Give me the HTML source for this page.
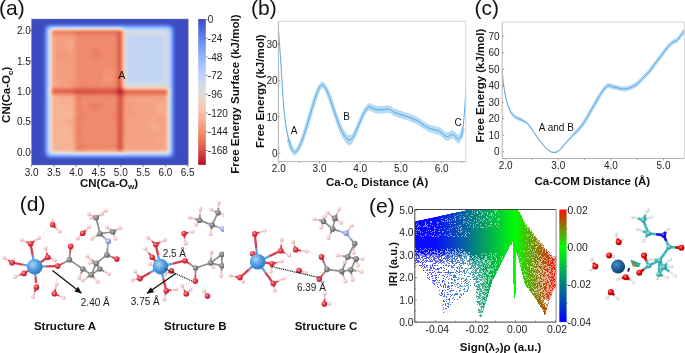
<!DOCTYPE html><html><head><meta charset="utf-8"><style>html,body{margin:0;padding:0;background:#fff}body{width:685px;height:353px;overflow:hidden}svg{display:block;will-change:transform}text{font-family:"Liberation Sans",sans-serif}</style></head><body>
<svg width="685" height="353" viewBox="0 0 685 353">
<defs>
<filter id="hm" filterUnits="userSpaceOnUse" x="15" y="5" width="190" height="175" color-interpolation-filters="sRGB"><feGaussianBlur stdDeviation="1.9"/><feComponentTransfer><feFuncR type="table" tableValues="0.230 0.285 0.348 0.415 0.484 0.554 0.619 0.688 0.754 0.814 0.867 0.913 0.947 0.966 0.968 0.957 0.932 0.892 0.839 0.774 0.706"/><feFuncG type="table" tableValues="0.299 0.380 0.466 0.547 0.622 0.690 0.744 0.793 0.830 0.854 0.864 0.837 0.795 0.740 0.674 0.598 0.519 0.425 0.322 0.200 0.016"/><feFuncB type="table" tableValues="0.754 0.823 0.888 0.939 0.975 0.996 0.999 0.988 0.961 0.918 0.863 0.795 0.717 0.637 0.557 0.477 0.406 0.333 0.265 0.203 0.150"/></feComponentTransfer></filter>
<clipPath id="cpa"><rect x="31.5" y="19" width="156.7" height="146"/></clipPath>
<linearGradient id="cba" x1="0" y1="0" x2="0" y2="1"><stop offset="0.000" stop-color="#3b4cc0"/><stop offset="0.050" stop-color="#4961d2"/><stop offset="0.100" stop-color="#5977e3"/><stop offset="0.150" stop-color="#6a8bef"/><stop offset="0.200" stop-color="#7b9ff9"/><stop offset="0.250" stop-color="#8db0fe"/><stop offset="0.300" stop-color="#9ebeff"/><stop offset="0.350" stop-color="#afcafc"/><stop offset="0.400" stop-color="#c0d4f5"/><stop offset="0.450" stop-color="#cfdaea"/><stop offset="0.500" stop-color="#dddcdc"/><stop offset="0.550" stop-color="#e9d5cb"/><stop offset="0.600" stop-color="#f2cbb7"/><stop offset="0.650" stop-color="#f6bda2"/><stop offset="0.700" stop-color="#f7ac8e"/><stop offset="0.750" stop-color="#f4987a"/><stop offset="0.800" stop-color="#ee8468"/><stop offset="0.850" stop-color="#e36c55"/><stop offset="0.900" stop-color="#d65244"/><stop offset="0.950" stop-color="#c53334"/><stop offset="1.000" stop-color="#b40426"/></linearGradient>
</defs>
<rect width="685" height="353" fill="#fff"/>
<g clip-path="url(#cpa)"><g filter="url(#hm)">
<rect x="15" y="5" width="190" height="175" fill="rgb(0,0,0)"/>
<rect x="46.3" y="26.4" width="126" height="129.8" rx="3" fill="rgb(92,92,92)"/>
<rect x="50.6" y="29.6" width="71" height="122.9" fill="rgb(187,187,187)"/>
<rect x="50.6" y="93" width="24.4" height="59.5" fill="rgb(173,173,173)"/>
<rect x="75" y="29.6" width="46" height="122.9" fill="rgb(200,200,200)"/>
<rect x="75" y="93" width="5" height="59.5" fill="rgb(207,207,207)"/>
<rect x="121" y="29.6" width="47.5" height="61.4" fill="rgb(125,125,125)"/>
<rect x="127" y="35" width="37" height="48" fill="rgb(103,103,103)"/>
<rect x="121" y="91" width="47.5" height="61.5" fill="rgb(185,185,185)"/>
<rect x="122.1" y="136.6" width="4.9" height="7.8" rx="2" fill="rgb(180,180,180)"/>
<rect x="110.7" y="99.0" width="4.1" height="5.7" rx="2" fill="rgb(196,196,196)"/>
<rect x="151.0" y="121.1" width="5.3" height="10.4" rx="2" fill="rgb(178,178,178)"/>
<rect x="75.3" y="146.0" width="11.0" height="5.0" rx="2" fill="rgb(208,208,208)"/>
<rect x="110.2" y="111.0" width="5.6" height="11.5" rx="2" fill="rgb(204,204,204)"/>
<rect x="156.4" y="135.8" width="6.4" height="6.9" rx="2" fill="rgb(179,179,179)"/>
<rect x="67.7" y="40.5" width="6.4" height="8.8" rx="2" fill="rgb(179,179,179)"/>
<rect x="103.9" y="69.3" width="7.8" height="9.6" rx="2" fill="rgb(192,192,192)"/>
<rect x="54.0" y="123.6" width="6.9" height="8.6" rx="2" fill="rgb(165,165,165)"/>
<rect x="57.0" y="53.8" width="11.6" height="5.6" rx="2" fill="rgb(192,192,192)"/>
<rect x="152.4" y="141.3" width="6.8" height="6.8" rx="2" fill="rgb(185,185,185)"/>
<rect x="88.8" y="103.2" width="11.3" height="6.7" rx="2" fill="rgb(208,208,208)"/>
<rect x="110.9" y="68.9" width="6.1" height="5.4" rx="2" fill="rgb(193,193,193)"/>
<rect x="68.1" y="112.3" width="6.9" height="5.3" rx="2" fill="rgb(165,165,165)"/>
<rect x="158.6" y="94.4" width="7.2" height="5.9" rx="2" fill="rgb(187,187,187)"/>
<rect x="66.1" y="117.1" width="8.9" height="9.0" rx="2" fill="rgb(179,179,179)"/>
<rect x="63.5" y="83.0" width="5.2" height="10.8" rx="2" fill="rgb(184,184,184)"/>
<rect x="100.9" y="147.9" width="10.8" height="3.1" rx="2" fill="rgb(199,199,199)"/>
<rect x="104.7" y="116.9" width="7.8" height="6.3" rx="2" fill="rgb(198,198,198)"/>
<rect x="67.8" y="76.4" width="7.2" height="11.7" rx="2" fill="rgb(190,190,190)"/>
<rect x="105.9" y="71.9" width="4.7" height="6.2" rx="2" fill="rgb(205,205,205)"/>
<rect x="127.0" y="109.4" width="10.1" height="6.9" rx="2" fill="rgb(189,189,189)"/>
<rect x="82.3" y="88.9" width="10.2" height="9.5" rx="2" fill="rgb(196,196,196)"/>
<rect x="154.1" y="107.7" width="8.6" height="4.1" rx="2" fill="rgb(186,186,186)"/>
<rect x="79.1" y="110.2" width="7.7" height="10.5" rx="2" fill="rgb(203,203,203)"/>
<rect x="126.3" y="145.3" width="11.7" height="5.7" rx="2" fill="rgb(185,185,185)"/>
<rect x="69.9" y="129.2" width="5.1" height="7.8" rx="2" fill="rgb(177,177,177)"/>
<rect x="129.7" y="117.0" width="5.4" height="10.2" rx="2" fill="rgb(186,186,186)"/>
<rect x="56.5" y="87.2" width="5.8" height="4.4" rx="2" fill="rgb(181,181,181)"/>
<rect x="86.3" y="53.9" width="5.5" height="4.3" rx="2" fill="rgb(200,200,200)"/>
<rect x="93.1" y="103.4" width="8.7" height="5.9" rx="2" fill="rgb(207,207,207)"/>
<rect x="52.1" y="79.6" width="6.2" height="7.3" rx="2" fill="rgb(181,181,181)"/>
<rect x="62.2" y="95.7" width="6.7" height="8.6" rx="2" fill="rgb(182,182,182)"/>
<rect x="91.9" y="49.3" width="8.8" height="8.5" rx="2" fill="rgb(208,208,208)"/>
<rect x="156.5" y="103.0" width="6.8" height="11.1" rx="2" fill="rgb(176,176,176)"/>
<rect x="63.7" y="98.1" width="8.9" height="5.1" rx="2" fill="rgb(176,176,176)"/>
<rect x="83.5" y="144.8" width="7.0" height="6.2" rx="2" fill="rgb(208,208,208)"/>
<rect x="86.5" y="146.2" width="7.9" height="4.8" rx="2" fill="rgb(200,200,200)"/>
<rect x="65.2" y="104.5" width="7.5" height="6.3" rx="2" fill="rgb(178,178,178)"/>
<rect x="153.0" y="122.9" width="6.0" height="6.1" rx="2" fill="rgb(179,179,179)"/>
<rect x="121.6" y="102.4" width="9.9" height="4.9" rx="2" fill="rgb(190,190,190)"/>
<rect x="84.5" y="94.4" width="6.7" height="6.4" rx="2" fill="rgb(201,201,201)"/>
<rect x="102.1" y="74.5" width="10.0" height="8.7" rx="2" fill="rgb(192,192,192)"/>
<rect x="79.3" y="85.4" width="11.3" height="11.1" rx="2" fill="rgb(201,201,201)"/>
<rect x="53.6" y="122.5" width="7.4" height="8.6" rx="2" fill="rgb(177,177,177)"/>
<rect x="59.1" y="129.2" width="9.6" height="7.5" rx="2" fill="rgb(170,170,170)"/>
<rect x="136.3" y="137.7" width="5.1" height="7.8" rx="2" fill="rgb(186,186,186)"/>
<rect x="50.6" y="89.3" width="118" height="4.4" fill="rgb(240,240,240)"/>
<rect x="118.3" y="29.6" width="4.4" height="122.9" fill="rgb(240,240,240)"/>
<rect x="50.6" y="29.6" width="71" height="3.4" fill="rgb(235,235,235)"/>
<rect x="117.3" y="88.3" width="6" height="6.5" fill="rgb(255,255,255)"/>
<rect x="118.3" y="29.6" width="4.4" height="4" fill="rgb(237,237,237)"/>
<rect x="164" y="89.3" width="4.5" height="4.4" fill="rgb(235,235,235)"/>
</g></g>
<rect x="31.5" y="19" width="156.7" height="146" fill="none" stroke="#888" stroke-width="0.5"/>
<line x1="31.6" y1="165" x2="31.6" y2="167" stroke="#444" stroke-width="0.6"/>
<text x="31.6" y="176.2" font-size="10" font-weight="normal" text-anchor="middle" fill="#222" >3.0</text>
<line x1="53.9" y1="165" x2="53.9" y2="167" stroke="#444" stroke-width="0.6"/>
<text x="53.9" y="176.2" font-size="10" font-weight="normal" text-anchor="middle" fill="#222" >3.5</text>
<line x1="76.2" y1="165" x2="76.2" y2="167" stroke="#444" stroke-width="0.6"/>
<text x="76.2" y="176.2" font-size="10" font-weight="normal" text-anchor="middle" fill="#222" >4.0</text>
<line x1="98.5" y1="165" x2="98.5" y2="167" stroke="#444" stroke-width="0.6"/>
<text x="98.5" y="176.2" font-size="10" font-weight="normal" text-anchor="middle" fill="#222" >4.5</text>
<line x1="120.8" y1="165" x2="120.8" y2="167" stroke="#444" stroke-width="0.6"/>
<text x="120.8" y="176.2" font-size="10" font-weight="normal" text-anchor="middle" fill="#222" >5.0</text>
<line x1="143.1" y1="165" x2="143.1" y2="167" stroke="#444" stroke-width="0.6"/>
<text x="143.1" y="176.2" font-size="10" font-weight="normal" text-anchor="middle" fill="#222" >5.5</text>
<line x1="165.4" y1="165" x2="165.4" y2="167" stroke="#444" stroke-width="0.6"/>
<text x="165.4" y="176.2" font-size="10" font-weight="normal" text-anchor="middle" fill="#222" >6.0</text>
<line x1="187.7" y1="165" x2="187.7" y2="167" stroke="#444" stroke-width="0.6"/>
<text x="187.7" y="176.2" font-size="10" font-weight="normal" text-anchor="middle" fill="#222" >6.5</text>
<line x1="29.5" y1="152.0" x2="31.5" y2="152.0" stroke="#444" stroke-width="0.6"/>
<text x="30.8" y="155.6" font-size="10" font-weight="normal" text-anchor="end" fill="#222" >0.0</text>
<line x1="29.5" y1="121.7" x2="31.5" y2="121.7" stroke="#444" stroke-width="0.6"/>
<text x="30.8" y="125.2" font-size="10" font-weight="normal" text-anchor="end" fill="#222" >0.5</text>
<line x1="29.5" y1="91.3" x2="31.5" y2="91.3" stroke="#444" stroke-width="0.6"/>
<text x="30.8" y="94.9" font-size="10" font-weight="normal" text-anchor="end" fill="#222" >1.0</text>
<line x1="29.5" y1="60.9" x2="31.5" y2="60.9" stroke="#444" stroke-width="0.6"/>
<text x="30.8" y="64.5" font-size="10" font-weight="normal" text-anchor="end" fill="#222" >1.5</text>
<line x1="29.5" y1="30.6" x2="31.5" y2="30.6" stroke="#444" stroke-width="0.6"/>
<text x="30.8" y="34.2" font-size="10" font-weight="normal" text-anchor="end" fill="#222" >2.0</text>
<text x="80" y="186.8" font-size="11.5" font-weight="bold" fill="#111">CN(Ca-O<tspan font-size="8" dy="2.5">w</tspan><tspan dy="-2.5">)</tspan></text>
<text x="0" y="0" transform="translate(10.3 94.8) rotate(-90)" font-size="11.5" font-weight="bold" text-anchor="middle" fill="#111">CN(Ca-O<tspan font-size="8" dy="2.5">c</tspan><tspan dy="-2.5">)</tspan></text>
<text x="121.7" y="78.5" font-size="10.5" font-weight="normal" text-anchor="middle" fill="#111" >A</text>
<rect x="198.2" y="19" width="7.6" height="145.8" fill="url(#cba)"/>
<line x1="205.8" y1="19.6" x2="207.8" y2="19.6" stroke="#444" stroke-width="0.6"/>
<text x="207.8" y="23.2" font-size="10" font-weight="normal" text-anchor="start" fill="#222" >0</text>
<line x1="205.8" y1="38.3" x2="207.8" y2="38.3" stroke="#444" stroke-width="0.6"/>
<text x="207.8" y="41.9" font-size="10" font-weight="normal" text-anchor="start" fill="#222" >-24</text>
<line x1="205.8" y1="57.0" x2="207.8" y2="57.0" stroke="#444" stroke-width="0.6"/>
<text x="207.8" y="60.6" font-size="10" font-weight="normal" text-anchor="start" fill="#222" >-48</text>
<line x1="205.8" y1="75.7" x2="207.8" y2="75.7" stroke="#444" stroke-width="0.6"/>
<text x="207.8" y="79.3" font-size="10" font-weight="normal" text-anchor="start" fill="#222" >-72</text>
<line x1="205.8" y1="94.4" x2="207.8" y2="94.4" stroke="#444" stroke-width="0.6"/>
<text x="207.8" y="98.0" font-size="10" font-weight="normal" text-anchor="start" fill="#222" >-96</text>
<line x1="205.8" y1="113.1" x2="207.8" y2="113.1" stroke="#444" stroke-width="0.6"/>
<text x="207.8" y="116.7" font-size="10" font-weight="normal" text-anchor="start" fill="#222" >-120</text>
<line x1="205.8" y1="131.8" x2="207.8" y2="131.8" stroke="#444" stroke-width="0.6"/>
<text x="207.8" y="135.4" font-size="10" font-weight="normal" text-anchor="start" fill="#222" >-144</text>
<line x1="205.8" y1="150.5" x2="207.8" y2="150.5" stroke="#444" stroke-width="0.6"/>
<text x="207.8" y="154.1" font-size="10" font-weight="normal" text-anchor="start" fill="#222" >-168</text>
<text x="0" y="0" transform="translate(239.2 94.1) rotate(-90)" font-size="11.5" font-weight="bold" text-anchor="middle" fill="#111">Free Energy Surface (kJ/mol)</text>
<text x="-1" y="15" font-size="21" font-weight="normal" text-anchor="start" fill="#111" >(a)</text>
<clipPath id="cpb"><rect x="278.4" y="21.3" width="187.4" height="140.3"/></clipPath>
<g clip-path="url(#cpb)">
<path d="M278.30 26.50 C278.52 29.45 279.15 37.95 279.60 44.20 C280.05 50.45 280.53 56.87 281.00 64.00 C281.47 71.13 281.90 79.53 282.40 87.00 C282.90 94.47 283.40 102.55 284.00 108.80 C284.60 115.05 285.25 119.80 286.00 124.50 C286.75 129.20 287.62 133.52 288.50 137.00 C289.38 140.48 290.33 143.37 291.30 145.40 C292.27 147.43 293.22 149.05 294.30 149.20 C295.38 149.35 296.55 148.23 297.80 146.30 C299.05 144.37 300.35 141.42 301.80 137.60 C303.25 133.78 304.88 128.63 306.50 123.40 C308.12 118.17 309.87 111.53 311.50 106.20 C313.13 100.87 314.95 95.12 316.30 91.40 C317.65 87.68 318.58 85.57 319.60 83.90 C320.62 82.23 321.42 81.32 322.40 81.40 C323.38 81.48 324.32 82.53 325.50 84.40 C326.68 86.27 328.08 89.12 329.50 92.60 C330.92 96.08 332.33 100.60 334.00 105.30 C335.67 110.00 337.73 116.52 339.50 120.80 C341.27 125.08 343.02 128.62 344.60 131.00 C346.18 133.38 347.55 134.90 349.00 135.10 C350.45 135.30 351.70 134.55 353.30 132.20 C354.90 129.85 356.85 124.80 358.60 121.00 C360.35 117.20 362.10 112.37 363.80 109.40 C365.50 106.43 367.18 103.93 368.80 103.20 C370.42 102.47 371.88 104.53 373.50 105.00 C375.12 105.47 376.75 105.87 378.50 106.00 C380.25 106.13 382.20 105.90 384.00 105.80 C385.80 105.70 387.63 104.97 389.30 105.40 C390.97 105.83 392.22 107.57 394.00 108.40 C395.78 109.23 398.00 109.73 400.00 110.40 C402.00 111.07 404.00 111.70 406.00 112.40 C408.00 113.10 410.00 113.77 412.00 114.60 C414.00 115.43 416.00 116.25 418.00 117.40 C420.00 118.55 422.17 120.33 424.00 121.50 C425.83 122.67 427.33 123.68 429.00 124.40 C430.67 125.12 432.17 125.27 434.00 125.80 C435.83 126.33 437.92 126.50 440.00 127.60 C442.08 128.70 444.37 131.95 446.50 132.40 C448.63 132.85 450.88 129.93 452.80 130.30 C454.72 130.67 456.67 134.08 458.00 134.60 C459.33 135.12 459.98 134.87 460.80 133.40 C461.62 131.93 462.32 129.38 462.90 125.80 C463.48 122.22 463.88 116.90 464.30 111.90 C464.72 106.90 465.08 101.28 465.40 95.80 C465.72 90.32 466.07 81.80 466.20 79.00 L466.20 81.00 C466.07 83.87 465.72 92.45 465.40 98.20 C465.08 103.95 464.72 110.03 464.30 115.50 C463.88 120.97 463.48 126.82 462.90 131.00 C462.32 135.18 461.62 138.53 460.80 140.60 C459.98 142.67 459.33 143.72 458.00 143.40 C456.67 143.08 454.72 139.13 452.80 138.70 C450.88 138.27 448.63 141.32 446.50 140.80 C444.37 140.28 442.08 136.83 440.00 135.60 C437.92 134.37 435.83 134.00 434.00 133.40 C432.17 132.80 430.67 132.72 429.00 132.00 C427.33 131.28 425.83 130.27 424.00 129.10 C422.17 127.93 420.00 126.15 418.00 125.00 C416.00 123.85 414.00 123.03 412.00 122.20 C410.00 121.37 408.00 120.70 406.00 120.00 C404.00 119.30 402.00 118.67 400.00 118.00 C398.00 117.33 395.78 116.83 394.00 116.00 C392.22 115.17 390.97 113.43 389.30 113.00 C387.63 112.57 385.80 113.30 384.00 113.40 C382.20 113.50 380.25 113.73 378.50 113.60 C376.75 113.47 375.12 113.07 373.50 112.60 C371.88 112.13 370.42 110.07 368.80 110.80 C367.18 111.53 365.50 113.97 363.80 117.00 C362.10 120.03 360.35 124.87 358.60 129.00 C356.85 133.13 354.90 139.08 353.30 141.80 C351.70 144.52 350.45 145.43 349.00 145.30 C347.55 145.17 346.18 143.35 344.60 141.00 C343.02 138.65 341.27 135.42 339.50 131.20 C337.73 126.98 335.67 120.67 334.00 115.70 C332.33 110.73 330.92 105.42 329.50 101.40 C328.08 97.38 326.68 93.80 325.50 91.60 C324.32 89.40 323.38 88.35 322.40 88.20 C321.42 88.05 320.62 88.97 319.60 90.70 C318.58 92.43 317.65 94.75 316.30 98.60 C314.95 102.45 313.13 108.47 311.50 113.80 C309.87 119.13 308.12 125.50 306.50 130.60 C304.88 135.70 303.25 140.72 301.80 144.40 C300.35 148.08 299.05 150.87 297.80 152.70 C296.55 154.53 295.38 155.75 294.30 155.40 C293.22 155.05 292.27 153.00 291.30 150.60 C290.33 148.20 289.38 144.85 288.50 141.00 C287.62 137.15 286.75 132.47 286.00 127.50 C285.25 122.53 284.60 117.62 284.00 111.20 C283.40 104.78 282.90 96.53 282.40 89.00 C281.90 81.47 281.47 73.20 281.00 66.00 C280.53 58.80 280.05 52.22 279.60 45.80 C279.15 39.38 278.52 30.55 278.30 27.50 Z" fill="#b6dbf5"/>
<path d="M288.50 139.00 C288.97 140.50 290.33 145.78 291.30 148.00 C292.27 150.22 293.22 152.05 294.30 152.30 C295.38 152.55 296.55 151.38 297.80 149.50 C299.05 147.62 300.35 144.75 301.80 141.00 C303.25 137.25 304.88 132.17 306.50 127.00 C308.12 121.83 309.87 115.33 311.50 110.00 C313.13 104.67 314.95 98.78 316.30 95.00 C317.65 91.22 318.58 89.00 319.60 87.30 C320.62 85.60 321.42 84.68 322.40 84.80 C323.38 84.92 324.32 85.97 325.50 88.00 C326.68 90.03 328.08 93.25 329.50 97.00 C330.92 100.75 332.33 105.67 334.00 110.50 C335.67 115.33 337.73 121.75 339.50 126.00 C341.27 130.25 343.02 133.63 344.60 136.00 C346.18 138.37 347.55 140.03 349.00 140.20 C350.45 140.37 351.70 139.53 353.30 137.00 C354.90 134.47 356.85 128.97 358.60 125.00 C360.35 121.03 362.10 116.20 363.80 113.20 C365.50 110.20 367.18 107.73 368.80 107.00 C370.42 106.27 371.88 108.33 373.50 108.80 C375.12 109.27 376.75 109.67 378.50 109.80 C380.25 109.93 382.20 109.70 384.00 109.60 C385.80 109.50 387.63 108.77 389.30 109.20 C390.97 109.63 392.22 111.37 394.00 112.20 C395.78 113.03 398.00 113.53 400.00 114.20 C402.00 114.87 404.00 115.50 406.00 116.20 C408.00 116.90 410.00 117.57 412.00 118.40 C414.00 119.23 416.00 120.05 418.00 121.20 C420.00 122.35 422.17 124.13 424.00 125.30 C425.83 126.47 427.33 127.48 429.00 128.20 C430.67 128.92 432.17 129.03 434.00 129.60 C435.83 130.17 437.92 130.43 440.00 131.60 C442.08 132.77 444.37 136.12 446.50 136.60 C448.63 137.08 450.88 134.10 452.80 134.50 C454.72 134.90 456.67 138.58 458.00 139.00 C459.33 139.42 459.98 138.77 460.80 137.00 C461.62 135.23 462.55 129.83 462.90 128.40" fill="none" stroke="#b6dbf5" stroke-width="4" stroke-linejoin="round"/>
<path d="M278.30 27.00 C278.52 30.00 279.15 38.67 279.60 45.00 C280.05 51.33 280.53 57.83 281.00 65.00 C281.47 72.17 281.90 80.50 282.40 88.00 C282.90 95.50 283.40 103.67 284.00 110.00 C284.60 116.33 285.25 121.17 286.00 126.00 C286.75 130.83 287.62 135.33 288.50 139.00 C289.38 142.67 290.33 145.78 291.30 148.00 C292.27 150.22 293.22 152.05 294.30 152.30 C295.38 152.55 296.55 151.38 297.80 149.50 C299.05 147.62 300.35 144.75 301.80 141.00 C303.25 137.25 304.88 132.17 306.50 127.00 C308.12 121.83 309.87 115.33 311.50 110.00 C313.13 104.67 314.95 98.78 316.30 95.00 C317.65 91.22 318.58 89.00 319.60 87.30 C320.62 85.60 321.42 84.68 322.40 84.80 C323.38 84.92 324.32 85.97 325.50 88.00 C326.68 90.03 328.08 93.25 329.50 97.00 C330.92 100.75 332.33 105.67 334.00 110.50 C335.67 115.33 337.73 121.75 339.50 126.00 C341.27 130.25 343.02 133.63 344.60 136.00 C346.18 138.37 347.55 140.03 349.00 140.20 C350.45 140.37 351.70 139.53 353.30 137.00 C354.90 134.47 356.85 128.97 358.60 125.00 C360.35 121.03 362.10 116.20 363.80 113.20 C365.50 110.20 367.18 107.73 368.80 107.00 C370.42 106.27 371.88 108.33 373.50 108.80 C375.12 109.27 376.75 109.67 378.50 109.80 C380.25 109.93 382.20 109.70 384.00 109.60 C385.80 109.50 387.63 108.77 389.30 109.20 C390.97 109.63 392.22 111.37 394.00 112.20 C395.78 113.03 398.00 113.53 400.00 114.20 C402.00 114.87 404.00 115.50 406.00 116.20 C408.00 116.90 410.00 117.57 412.00 118.40 C414.00 119.23 416.00 120.05 418.00 121.20 C420.00 122.35 422.17 124.13 424.00 125.30 C425.83 126.47 427.33 127.48 429.00 128.20 C430.67 128.92 432.17 129.03 434.00 129.60 C435.83 130.17 437.92 130.43 440.00 131.60 C442.08 132.77 444.37 136.12 446.50 136.60 C448.63 137.08 450.88 134.10 452.80 134.50 C454.72 134.90 456.67 138.58 458.00 139.00 C459.33 139.42 459.98 138.77 460.80 137.00 C461.62 135.23 462.32 132.28 462.90 128.40 C463.48 124.52 463.88 118.93 464.30 113.70 C464.72 108.47 465.08 102.62 465.40 97.00 C465.72 91.38 466.07 82.83 466.20 80.00" fill="none" stroke="#5aa8e2" stroke-width="1.0"/>
</g>
<path d="M278.4 21.3H465.8V161.6" fill="none" stroke="#d6d6d6" stroke-width="1"/>
<path d="M278.4 21.3V161.6H465.8" fill="none" stroke="#b4b4b4" stroke-width="1"/>
<line x1="278.4" y1="153.4" x2="280.4" y2="153.4" stroke="#666" stroke-width="0.6"/>
<text x="277.6" y="157.0" font-size="10" font-weight="normal" text-anchor="end" fill="#222" >0</text>
<line x1="278.4" y1="116.9" x2="280.4" y2="116.9" stroke="#666" stroke-width="0.6"/>
<text x="277.6" y="120.5" font-size="10" font-weight="normal" text-anchor="end" fill="#222" >10</text>
<line x1="278.4" y1="80.4" x2="280.4" y2="80.4" stroke="#666" stroke-width="0.6"/>
<text x="277.6" y="84.0" font-size="10" font-weight="normal" text-anchor="end" fill="#222" >20</text>
<line x1="278.4" y1="43.9" x2="280.4" y2="43.9" stroke="#666" stroke-width="0.6"/>
<text x="277.6" y="47.5" font-size="10" font-weight="normal" text-anchor="end" fill="#222" >30</text>
<line x1="278.8" y1="161.6" x2="278.8" y2="163.6" stroke="#777" stroke-width="0.6"/>
<text x="278.8" y="172.0" font-size="10" font-weight="normal" text-anchor="middle" fill="#222" >2.0</text>
<line x1="299.2" y1="161.6" x2="299.2" y2="163.0" stroke="#777" stroke-width="0.6"/>
<line x1="319.5" y1="161.6" x2="319.5" y2="163.6" stroke="#777" stroke-width="0.6"/>
<text x="319.5" y="172.0" font-size="10" font-weight="normal" text-anchor="middle" fill="#222" >3.0</text>
<line x1="339.9" y1="161.6" x2="339.9" y2="163.0" stroke="#777" stroke-width="0.6"/>
<line x1="360.2" y1="161.6" x2="360.2" y2="163.6" stroke="#777" stroke-width="0.6"/>
<text x="360.2" y="172.0" font-size="10" font-weight="normal" text-anchor="middle" fill="#222" >4.0</text>
<line x1="380.6" y1="161.6" x2="380.6" y2="163.0" stroke="#777" stroke-width="0.6"/>
<line x1="400.9" y1="161.6" x2="400.9" y2="163.6" stroke="#777" stroke-width="0.6"/>
<text x="400.9" y="172.0" font-size="10" font-weight="normal" text-anchor="middle" fill="#222" >5.0</text>
<line x1="421.2" y1="161.6" x2="421.2" y2="163.0" stroke="#777" stroke-width="0.6"/>
<line x1="441.6" y1="161.6" x2="441.6" y2="163.6" stroke="#777" stroke-width="0.6"/>
<text x="441.6" y="172.0" font-size="10" font-weight="normal" text-anchor="middle" fill="#222" >6.0</text>
<line x1="462.0" y1="161.6" x2="462.0" y2="163.0" stroke="#777" stroke-width="0.6"/>
<text x="326" y="185.8" font-size="11.5" font-weight="bold" fill="#111">Ca-O<tspan font-size="8" dy="2.5">c</tspan><tspan dy="-2.5"> Distance (Å)</tspan></text>
<text x="0" y="0" transform="translate(263.9 91.2) rotate(-90)" font-size="11.5" font-weight="bold" text-anchor="middle" fill="#111">Free Energy (kJ/mol)</text>
<text x="294.2" y="134.2" font-size="10" font-weight="normal" text-anchor="middle" fill="#111" >A</text>
<text x="346.7" y="119.7" font-size="10" font-weight="normal" text-anchor="middle" fill="#111" >B</text>
<text x="458" y="125.8" font-size="10" font-weight="normal" text-anchor="middle" fill="#111" >C</text>
<text x="251" y="15" font-size="21" font-weight="normal" text-anchor="start" fill="#111" >(b)</text>
<clipPath id="cpc"><rect x="502.2" y="22.2" width="182.3" height="136.3"/></clipPath>
<g clip-path="url(#cpc)">
<path d="M502.20 69.70 C502.40 71.70 502.93 77.87 503.40 81.70 C503.87 85.53 504.35 89.42 505.00 92.70 C505.65 95.98 506.43 98.68 507.30 101.40 C508.17 104.12 508.95 106.78 510.20 109.00 C511.45 111.22 513.08 113.27 514.80 114.70 C516.52 116.13 518.62 116.55 520.50 117.60 C522.38 118.65 524.60 119.83 526.10 121.00 C527.60 122.17 528.17 122.83 529.50 124.60 C530.83 126.37 532.58 129.33 534.10 131.60 C535.62 133.87 537.12 136.15 538.60 138.20 C540.08 140.25 541.52 142.15 543.00 143.90 C544.48 145.65 546.08 147.47 547.50 148.70 C548.92 149.93 550.17 150.83 551.50 151.30 C552.83 151.77 554.25 151.78 555.50 151.50 C556.75 151.22 557.38 151.10 559.00 149.60 C560.62 148.10 562.73 145.35 565.20 142.50 C567.67 139.65 571.43 135.13 573.80 132.50 C576.17 129.87 577.58 128.90 579.40 126.70 C581.22 124.50 582.77 122.37 584.70 119.30 C586.63 116.23 588.85 112.03 591.00 108.30 C593.15 104.57 595.60 100.27 597.60 96.90 C599.60 93.53 601.27 90.40 603.00 88.10 C604.73 85.80 606.50 83.77 608.00 83.10 C609.50 82.43 610.65 83.78 612.00 84.10 C613.35 84.42 614.68 84.68 616.10 85.00 C617.52 85.32 618.97 85.77 620.50 86.00 C622.03 86.23 623.63 86.57 625.30 86.40 C626.97 86.23 628.67 85.73 630.50 85.00 C632.33 84.27 634.30 83.50 636.30 82.00 C638.30 80.50 640.35 78.15 642.50 76.00 C644.65 73.85 647.20 71.43 649.20 69.10 C651.20 66.77 652.65 64.45 654.50 62.00 C656.35 59.55 658.55 56.73 660.30 54.40 C662.05 52.07 663.47 49.97 665.00 48.00 C666.53 46.03 668.17 43.98 669.50 42.60 C670.83 41.22 671.77 40.50 673.00 39.70 C674.23 38.90 675.65 38.83 676.90 37.80 C678.15 36.77 679.23 35.12 680.50 33.50 C681.77 31.88 683.83 29.00 684.50 28.10 L684.50 33.10 C683.83 34.00 681.77 36.88 680.50 38.50 C679.23 40.12 678.15 41.77 676.90 42.80 C675.65 43.83 674.23 43.90 673.00 44.70 C671.77 45.50 670.83 46.22 669.50 47.60 C668.17 48.98 666.53 51.03 665.00 53.00 C663.47 54.97 662.05 57.07 660.30 59.40 C658.55 61.73 656.35 64.55 654.50 67.00 C652.65 69.45 651.20 71.77 649.20 74.10 C647.20 76.43 644.65 78.85 642.50 81.00 C640.35 83.15 638.30 85.50 636.30 87.00 C634.30 88.50 632.33 89.27 630.50 90.00 C628.67 90.73 626.97 91.23 625.30 91.40 C623.63 91.57 622.03 91.23 620.50 91.00 C618.97 90.77 617.52 90.32 616.10 90.00 C614.68 89.68 613.35 89.42 612.00 89.10 C610.65 88.78 609.50 87.47 608.00 88.10 C606.50 88.73 604.73 90.67 603.00 92.90 C601.27 95.13 599.60 98.20 597.60 101.50 C595.60 104.80 593.15 109.03 591.00 112.70 C588.85 116.37 586.63 120.50 584.70 123.50 C582.77 126.50 581.22 128.60 579.40 130.70 C577.58 132.80 576.17 133.73 573.80 136.10 C571.43 138.47 567.67 142.35 565.20 144.90 C562.73 147.45 560.62 150.03 559.00 151.40 C557.38 152.77 556.75 152.85 555.50 153.10 C554.25 153.35 552.83 153.37 551.50 152.90 C550.17 152.43 548.92 151.50 547.50 150.30 C546.08 149.10 544.48 147.38 543.00 145.70 C541.52 144.02 540.08 142.22 538.60 140.20 C537.12 138.18 535.62 135.80 534.10 133.60 C532.58 131.40 530.83 128.63 529.50 127.00 C528.17 125.37 527.60 124.77 526.10 123.80 C524.60 122.83 522.38 122.05 520.50 121.20 C518.62 120.35 516.52 120.07 514.80 118.70 C513.08 117.33 511.45 115.32 510.20 113.00 C508.95 110.68 508.17 107.75 507.30 104.80 C506.43 101.85 505.65 98.82 505.00 95.30 C504.35 91.78 503.87 87.70 503.40 83.70 C502.93 79.70 502.40 73.37 502.20 71.30 Z" fill="#b6dbf5"/>
<path d="M573.80 134.30 C574.73 133.37 577.58 130.85 579.40 128.70 C581.22 126.55 582.77 124.43 584.70 121.40 C586.63 118.37 588.85 114.20 591.00 110.50 C593.15 106.80 595.60 102.53 597.60 99.20 C599.60 95.87 601.27 92.77 603.00 90.50 C604.73 88.23 606.50 86.25 608.00 85.60 C609.50 84.95 610.65 86.28 612.00 86.60 C613.35 86.92 614.68 87.18 616.10 87.50 C617.52 87.82 618.97 88.27 620.50 88.50 C622.03 88.73 623.63 89.07 625.30 88.90 C626.97 88.73 628.67 88.23 630.50 87.50 C632.33 86.77 634.30 86.00 636.30 84.50 C638.30 83.00 640.35 80.65 642.50 78.50 C644.65 76.35 647.20 73.93 649.20 71.60 C651.20 69.27 652.65 66.95 654.50 64.50 C656.35 62.05 658.55 59.23 660.30 56.90 C662.05 54.57 663.47 52.47 665.00 50.50 C666.53 48.53 668.17 46.48 669.50 45.10 C670.83 43.72 671.77 43.00 673.00 42.20 C674.23 41.40 675.65 41.33 676.90 40.30 C678.15 39.27 679.23 37.62 680.50 36.00 C681.77 34.38 683.83 31.50 684.50 30.60" fill="none" stroke="#b6dbf5" stroke-width="3.6" stroke-linejoin="round"/>
<path d="M502.20 70.50 C502.40 72.53 502.93 78.78 503.40 82.70 C503.87 86.62 504.35 90.60 505.00 94.00 C505.65 97.40 506.43 100.27 507.30 103.10 C508.17 105.93 508.95 108.73 510.20 111.00 C511.45 113.27 513.08 115.30 514.80 116.70 C516.52 118.10 518.62 118.45 520.50 119.40 C522.38 120.35 524.60 121.33 526.10 122.40 C527.60 123.47 528.17 124.10 529.50 125.80 C530.83 127.50 532.58 130.37 534.10 132.60 C535.62 134.83 537.12 137.17 538.60 139.20 C540.08 141.23 541.52 143.08 543.00 144.80 C544.48 146.52 546.08 148.28 547.50 149.50 C548.92 150.72 550.17 151.63 551.50 152.10 C552.83 152.57 554.25 152.57 555.50 152.30 C556.75 152.03 557.38 151.93 559.00 150.50 C560.62 149.07 562.73 146.40 565.20 143.70 C567.67 141.00 571.43 136.80 573.80 134.30 C576.17 131.80 577.58 130.85 579.40 128.70 C581.22 126.55 582.77 124.43 584.70 121.40 C586.63 118.37 588.85 114.20 591.00 110.50 C593.15 106.80 595.60 102.53 597.60 99.20 C599.60 95.87 601.27 92.77 603.00 90.50 C604.73 88.23 606.50 86.25 608.00 85.60 C609.50 84.95 610.65 86.28 612.00 86.60 C613.35 86.92 614.68 87.18 616.10 87.50 C617.52 87.82 618.97 88.27 620.50 88.50 C622.03 88.73 623.63 89.07 625.30 88.90 C626.97 88.73 628.67 88.23 630.50 87.50 C632.33 86.77 634.30 86.00 636.30 84.50 C638.30 83.00 640.35 80.65 642.50 78.50 C644.65 76.35 647.20 73.93 649.20 71.60 C651.20 69.27 652.65 66.95 654.50 64.50 C656.35 62.05 658.55 59.23 660.30 56.90 C662.05 54.57 663.47 52.47 665.00 50.50 C666.53 48.53 668.17 46.48 669.50 45.10 C670.83 43.72 671.77 43.00 673.00 42.20 C674.23 41.40 675.65 41.33 676.90 40.30 C678.15 39.27 679.23 37.62 680.50 36.00 C681.77 34.38 683.83 31.50 684.50 30.60" fill="none" stroke="#5aa8e2" stroke-width="1.0"/>
</g>
<path d="M502.2 22.2H684.5V158.5" fill="none" stroke="#d6d6d6" stroke-width="1"/>
<path d="M502.2 22.2V158.5H684.5" fill="none" stroke="#b4b4b4" stroke-width="1"/>
<line x1="502.2" y1="151.8" x2="504.2" y2="151.8" stroke="#666" stroke-width="0.6"/>
<text x="499.6" y="155.2" font-size="10" font-weight="normal" text-anchor="end" fill="#222" >0</text>
<line x1="502.2" y1="135.3" x2="504.2" y2="135.3" stroke="#666" stroke-width="0.6"/>
<text x="499.6" y="138.7" font-size="10" font-weight="normal" text-anchor="end" fill="#222" >10</text>
<line x1="502.2" y1="118.8" x2="504.2" y2="118.8" stroke="#666" stroke-width="0.6"/>
<text x="499.6" y="122.2" font-size="10" font-weight="normal" text-anchor="end" fill="#222" >20</text>
<line x1="502.2" y1="102.3" x2="504.2" y2="102.3" stroke="#666" stroke-width="0.6"/>
<text x="499.6" y="105.7" font-size="10" font-weight="normal" text-anchor="end" fill="#222" >30</text>
<line x1="502.2" y1="85.8" x2="504.2" y2="85.8" stroke="#666" stroke-width="0.6"/>
<text x="499.6" y="89.2" font-size="10" font-weight="normal" text-anchor="end" fill="#222" >40</text>
<line x1="502.2" y1="69.3" x2="504.2" y2="69.3" stroke="#666" stroke-width="0.6"/>
<text x="499.6" y="72.7" font-size="10" font-weight="normal" text-anchor="end" fill="#222" >50</text>
<line x1="502.2" y1="52.8" x2="504.2" y2="52.8" stroke="#666" stroke-width="0.6"/>
<text x="499.6" y="56.2" font-size="10" font-weight="normal" text-anchor="end" fill="#222" >60</text>
<line x1="502.2" y1="36.3" x2="504.2" y2="36.3" stroke="#666" stroke-width="0.6"/>
<text x="499.6" y="39.7" font-size="10" font-weight="normal" text-anchor="end" fill="#222" >70</text>
<line x1="505.7" y1="158.5" x2="505.7" y2="160.5" stroke="#777" stroke-width="0.6"/>
<text x="505.7" y="169.0" font-size="10" font-weight="normal" text-anchor="middle" fill="#222" >2.0</text>
<line x1="532.0" y1="158.5" x2="532.0" y2="160.0" stroke="#777" stroke-width="0.6"/>
<line x1="558.3" y1="158.5" x2="558.3" y2="160.5" stroke="#777" stroke-width="0.6"/>
<text x="558.3" y="169.0" font-size="10" font-weight="normal" text-anchor="middle" fill="#222" >3.0</text>
<line x1="584.6" y1="158.5" x2="584.6" y2="160.0" stroke="#777" stroke-width="0.6"/>
<line x1="610.9" y1="158.5" x2="610.9" y2="160.5" stroke="#777" stroke-width="0.6"/>
<text x="610.9" y="169.0" font-size="10" font-weight="normal" text-anchor="middle" fill="#222" >4.0</text>
<line x1="637.2" y1="158.5" x2="637.2" y2="160.0" stroke="#777" stroke-width="0.6"/>
<line x1="663.5" y1="158.5" x2="663.5" y2="160.5" stroke="#777" stroke-width="0.6"/>
<text x="663.5" y="169.0" font-size="10" font-weight="normal" text-anchor="middle" fill="#222" >5.0</text>
<text x="592.3" y="184.8" font-size="11.5" font-weight="bold" text-anchor="middle" fill="#111" >Ca-COM Distance (Å)</text>
<text x="0" y="0" transform="translate(484.3 85.5) rotate(-90)" font-size="11.5" font-weight="bold" text-anchor="middle" fill="#111">Free Energy (kJ/mol)</text>
<text x="556.3" y="130.8" font-size="10" font-weight="normal" text-anchor="middle" fill="#111" >A and B</text>
<text x="474.6" y="15" font-size="21" font-weight="normal" text-anchor="start" fill="#111" >(c)</text>
<defs><radialGradient id="gdCa" cx="0.38" cy="0.35" r="0.68"><stop offset="0" stop-color="#a9d3f7"/><stop offset="0.55" stop-color="#4f9be0"/><stop offset="1" stop-color="#2f74bd"/></radialGradient><radialGradient id="gdO" cx="0.38" cy="0.35" r="0.68"><stop offset="0" stop-color="#ff9a9a"/><stop offset="0.55" stop-color="#e0303f"/><stop offset="1" stop-color="#b11a28"/></radialGradient><radialGradient id="gdH" cx="0.38" cy="0.35" r="0.68"><stop offset="0" stop-color="#fff6f6"/><stop offset="0.55" stop-color="#f4caca"/><stop offset="1" stop-color="#d29e9e"/></radialGradient><radialGradient id="gdC" cx="0.38" cy="0.35" r="0.68"><stop offset="0" stop-color="#bcbcbc"/><stop offset="0.55" stop-color="#858585"/><stop offset="1" stop-color="#5c5c5c"/></radialGradient><radialGradient id="gdN" cx="0.38" cy="0.35" r="0.68"><stop offset="0" stop-color="#dfe4ff"/><stop offset="0.55" stop-color="#9aa6dc"/><stop offset="1" stop-color="#6f7cb8"/></radialGradient><radialGradient id="geCa" cx="0.38" cy="0.35" r="0.68"><stop offset="0" stop-color="#4f8fc6"/><stop offset="0.55" stop-color="#1f5f99"/><stop offset="1" stop-color="#143e68"/></radialGradient><radialGradient id="geO" cx="0.38" cy="0.35" r="0.68"><stop offset="0" stop-color="#ff8a8a"/><stop offset="0.55" stop-color="#e00000"/><stop offset="1" stop-color="#9c0000"/></radialGradient><radialGradient id="geH" cx="0.38" cy="0.35" r="0.68"><stop offset="0" stop-color="#ffffff"/><stop offset="0.55" stop-color="#e6e6e6"/><stop offset="1" stop-color="#a8a8a8"/></radialGradient><radialGradient id="geC" cx="0.38" cy="0.35" r="0.68"><stop offset="0" stop-color="#a9eeee"/><stop offset="0.55" stop-color="#3fb7b7"/><stop offset="1" stop-color="#227a7a"/></radialGradient><radialGradient id="geN" cx="0.38" cy="0.35" r="0.68"><stop offset="0" stop-color="#8080ff"/><stop offset="0.55" stop-color="#1010e6"/><stop offset="1" stop-color="#0000a0"/></radialGradient><marker id="ah" viewBox="0 0 10 10" refX="9" refY="5" markerWidth="5.5" markerHeight="5.5" orient="auto"><path d="M0 0.8L10 5L0 9.2Z" fill="#111"/></marker></defs>
<line x1="38.9" y1="238.0" x2="52.7" y2="224.8" stroke="#c8c8c8" stroke-width="0.7" stroke-dasharray="1 1.2"/>
<line x1="59.5" y1="231.4" x2="70.7" y2="246.4" stroke="#c8c8c8" stroke-width="0.7" stroke-dasharray="1 1.2"/>
<line x1="77.7" y1="238.4" x2="70.7" y2="246.4" stroke="#c8c8c8" stroke-width="0.7" stroke-dasharray="1 1.2"/>
<line x1="56.7" y1="283.9" x2="57.5" y2="270" stroke="#c8c8c8" stroke-width="0.7" stroke-dasharray="1 1.2"/>
<line x1="34.7" y1="266.8" x2="32.65" y2="255.25" stroke="#5aa2e2" stroke-width="2.275"/>
<line x1="32.65" y1="255.25" x2="30.6" y2="243.7" stroke="#dc3a48" stroke-width="2.275"/>
<line x1="34.7" y1="266.8" x2="41.20" y2="262.00" stroke="#5aa2e2" stroke-width="2.275"/>
<line x1="41.20" y1="262.00" x2="47.7" y2="257.2" stroke="#dc3a48" stroke-width="2.275"/>
<line x1="34.7" y1="266.8" x2="23.35" y2="264.75" stroke="#5aa2e2" stroke-width="2.275"/>
<line x1="23.35" y1="264.75" x2="12.0" y2="262.7" stroke="#dc3a48" stroke-width="2.275"/>
<line x1="34.7" y1="266.8" x2="29.40" y2="270.10" stroke="#5aa2e2" stroke-width="2.275"/>
<line x1="29.40" y1="270.10" x2="24.1" y2="273.4" stroke="#dc3a48" stroke-width="2.275"/>
<line x1="34.7" y1="266.8" x2="35.55" y2="277.10" stroke="#5aa2e2" stroke-width="2.275"/>
<line x1="35.55" y1="277.10" x2="36.4" y2="287.4" stroke="#dc3a48" stroke-width="2.275"/>
<line x1="34.7" y1="266.8" x2="46.20" y2="266.45" stroke="#5aa2e2" stroke-width="2.275"/>
<line x1="46.20" y1="266.45" x2="57.7" y2="266.1" stroke="#dc3a48" stroke-width="2.275"/>
<line x1="30.6" y1="243.7" x2="26.15" y2="241.80" stroke="#dc3a48" stroke-width="1.75"/>
<line x1="26.15" y1="241.80" x2="21.7" y2="239.9" stroke="#f0c4c4" stroke-width="1.75"/>
<line x1="30.6" y1="243.7" x2="34.75" y2="240.85" stroke="#dc3a48" stroke-width="1.75"/>
<line x1="34.75" y1="240.85" x2="38.9" y2="238.0" stroke="#f0c4c4" stroke-width="1.75"/>
<line x1="47.7" y1="257.2" x2="46.60" y2="252.55" stroke="#dc3a48" stroke-width="1.75"/>
<line x1="46.60" y1="252.55" x2="45.5" y2="247.9" stroke="#f0c4c4" stroke-width="1.75"/>
<line x1="47.7" y1="257.2" x2="51.25" y2="258.80" stroke="#dc3a48" stroke-width="1.75"/>
<line x1="51.25" y1="258.80" x2="54.8" y2="260.4" stroke="#f0c4c4" stroke-width="1.75"/>
<line x1="12.0" y1="262.7" x2="8.10" y2="260.25" stroke="#dc3a48" stroke-width="1.75"/>
<line x1="8.10" y1="260.25" x2="4.2" y2="257.8" stroke="#f0c4c4" stroke-width="1.75"/>
<line x1="12.0" y1="262.7" x2="12.70" y2="261.30" stroke="#dc3a48" stroke-width="1.75"/>
<line x1="12.70" y1="261.30" x2="13.4" y2="259.9" stroke="#f0c4c4" stroke-width="1.75"/>
<line x1="24.1" y1="273.4" x2="19.50" y2="275.15" stroke="#dc3a48" stroke-width="1.75"/>
<line x1="19.50" y1="275.15" x2="14.9" y2="276.9" stroke="#f0c4c4" stroke-width="1.75"/>
<line x1="36.4" y1="287.4" x2="34.65" y2="292.10" stroke="#dc3a48" stroke-width="1.75"/>
<line x1="34.65" y1="292.10" x2="32.9" y2="296.8" stroke="#f0c4c4" stroke-width="1.75"/>
<line x1="36.4" y1="287.4" x2="36.55" y2="285.90" stroke="#dc3a48" stroke-width="1.75"/>
<line x1="36.55" y1="285.90" x2="36.7" y2="284.4" stroke="#f0c4c4" stroke-width="1.75"/>
<line x1="52.7" y1="224.8" x2="52.35" y2="222.85" stroke="#dc3a48" stroke-width="1.75"/>
<line x1="52.35" y1="222.85" x2="52.0" y2="220.9" stroke="#f0c4c4" stroke-width="1.75"/>
<line x1="52.7" y1="224.8" x2="56.10" y2="228.10" stroke="#dc3a48" stroke-width="1.75"/>
<line x1="56.10" y1="228.10" x2="59.5" y2="231.4" stroke="#f0c4c4" stroke-width="1.75"/>
<line x1="82.8" y1="233.3" x2="80.25" y2="235.85" stroke="#dc3a48" stroke-width="1.75"/>
<line x1="80.25" y1="235.85" x2="77.7" y2="238.4" stroke="#f0c4c4" stroke-width="1.75"/>
<line x1="82.8" y1="233.3" x2="86.00" y2="230.10" stroke="#dc3a48" stroke-width="1.75"/>
<line x1="86.00" y1="230.10" x2="89.2" y2="226.9" stroke="#f0c4c4" stroke-width="1.75"/>
<line x1="54.3" y1="293.8" x2="55.50" y2="288.85" stroke="#dc3a48" stroke-width="1.75"/>
<line x1="55.50" y1="288.85" x2="56.7" y2="283.9" stroke="#f0c4c4" stroke-width="1.75"/>
<line x1="54.3" y1="293.8" x2="59.00" y2="295.80" stroke="#dc3a48" stroke-width="1.75"/>
<line x1="59.00" y1="295.80" x2="63.7" y2="297.8" stroke="#f0c4c4" stroke-width="1.75"/>
<line x1="57.7" y1="266.1" x2="63.55" y2="262.95" stroke="#dc3a48" stroke-width="1.75"/>
<line x1="63.55" y1="262.95" x2="69.4" y2="259.8" stroke="#8c8c8c" stroke-width="1.75"/>
<line x1="69.4" y1="259.8" x2="70.05" y2="253.10" stroke="#8c8c8c" stroke-width="1.75"/>
<line x1="70.05" y1="253.10" x2="70.7" y2="246.4" stroke="#dc3a48" stroke-width="1.75"/>
<line x1="69.4" y1="259.8" x2="76.10" y2="264.40" stroke="#8c8c8c" stroke-width="1.75"/>
<line x1="76.10" y1="264.40" x2="82.8" y2="269.0" stroke="#8c8c8c" stroke-width="1.75"/>
<line x1="82.8" y1="269.0" x2="87.05" y2="271.85" stroke="#8c8c8c" stroke-width="1.75"/>
<line x1="87.05" y1="271.85" x2="91.3" y2="274.7" stroke="#8c8c8c" stroke-width="1.75"/>
<line x1="91.3" y1="274.7" x2="95.55" y2="271.85" stroke="#8c8c8c" stroke-width="1.75"/>
<line x1="95.55" y1="271.85" x2="99.8" y2="269.0" stroke="#8c8c8c" stroke-width="1.75"/>
<line x1="91.3" y1="274.7" x2="93.75" y2="269.05" stroke="#8c8c8c" stroke-width="1.75"/>
<line x1="93.75" y1="269.05" x2="96.2" y2="263.4" stroke="#8c8c8c" stroke-width="1.75"/>
<line x1="96.2" y1="263.4" x2="98.00" y2="266.20" stroke="#8c8c8c" stroke-width="1.75"/>
<line x1="98.00" y1="266.20" x2="99.8" y2="269.0" stroke="#8c8c8c" stroke-width="1.75"/>
<line x1="96.2" y1="263.4" x2="101.55" y2="259.15" stroke="#8c8c8c" stroke-width="1.75"/>
<line x1="101.55" y1="259.15" x2="106.9" y2="254.9" stroke="#8c8c8c" stroke-width="1.75"/>
<line x1="106.9" y1="254.9" x2="111.85" y2="257.00" stroke="#8c8c8c" stroke-width="1.75"/>
<line x1="111.85" y1="257.00" x2="116.8" y2="259.1" stroke="#dc3a48" stroke-width="1.75"/>
<line x1="106.9" y1="254.9" x2="107.60" y2="248.10" stroke="#8c8c8c" stroke-width="1.75"/>
<line x1="107.60" y1="248.10" x2="108.3" y2="241.3" stroke="#9aa6dc" stroke-width="1.75"/>
<line x1="108.3" y1="241.3" x2="104.15" y2="237.50" stroke="#9aa6dc" stroke-width="1.75"/>
<line x1="104.15" y1="237.50" x2="100.0" y2="233.7" stroke="#8c8c8c" stroke-width="1.75"/>
<line x1="100.0" y1="233.7" x2="98.10" y2="225.70" stroke="#8c8c8c" stroke-width="1.75"/>
<line x1="98.10" y1="225.70" x2="96.2" y2="217.7" stroke="#8c8c8c" stroke-width="1.75"/>
<line x1="100.0" y1="233.7" x2="106.40" y2="232.75" stroke="#8c8c8c" stroke-width="1.75"/>
<line x1="106.40" y1="232.75" x2="112.8" y2="231.8" stroke="#8c8c8c" stroke-width="1.75"/>
<line x1="96.2" y1="217.7" x2="92.70" y2="215.95" stroke="#8c8c8c" stroke-width="1.75"/>
<line x1="92.70" y1="215.95" x2="89.2" y2="214.2" stroke="#f0c4c4" stroke-width="1.75"/>
<line x1="96.2" y1="217.7" x2="93.65" y2="217.70" stroke="#8c8c8c" stroke-width="1.75"/>
<line x1="93.65" y1="217.70" x2="91.1" y2="217.7" stroke="#f0c4c4" stroke-width="1.75"/>
<line x1="96.2" y1="217.7" x2="101.00" y2="214.20" stroke="#8c8c8c" stroke-width="1.75"/>
<line x1="101.00" y1="214.20" x2="105.8" y2="210.7" stroke="#f0c4c4" stroke-width="1.75"/>
<line x1="96.2" y1="217.7" x2="99.05" y2="215.80" stroke="#8c8c8c" stroke-width="1.75"/>
<line x1="99.05" y1="215.80" x2="101.9" y2="213.9" stroke="#f0c4c4" stroke-width="1.75"/>
<line x1="100.0" y1="233.7" x2="95.90" y2="236.25" stroke="#8c8c8c" stroke-width="1.75"/>
<line x1="95.90" y1="236.25" x2="91.8" y2="238.8" stroke="#f0c4c4" stroke-width="1.75"/>
<line x1="112.8" y1="231.8" x2="109.90" y2="229.55" stroke="#8c8c8c" stroke-width="1.75"/>
<line x1="109.90" y1="229.55" x2="107.0" y2="227.3" stroke="#f0c4c4" stroke-width="1.75"/>
<line x1="112.8" y1="231.8" x2="116.60" y2="229.85" stroke="#8c8c8c" stroke-width="1.75"/>
<line x1="116.60" y1="229.85" x2="120.4" y2="227.9" stroke="#f0c4c4" stroke-width="1.75"/>
<line x1="112.8" y1="231.8" x2="114.05" y2="235.30" stroke="#8c8c8c" stroke-width="1.75"/>
<line x1="114.05" y1="235.30" x2="115.3" y2="238.8" stroke="#f0c4c4" stroke-width="1.75"/>
<line x1="96.2" y1="263.4" x2="91.60" y2="259.85" stroke="#8c8c8c" stroke-width="1.75"/>
<line x1="91.60" y1="259.85" x2="87.0" y2="256.3" stroke="#f0c4c4" stroke-width="1.75"/>
<line x1="96.2" y1="263.4" x2="93.05" y2="263.05" stroke="#8c8c8c" stroke-width="1.75"/>
<line x1="93.05" y1="263.05" x2="89.9" y2="262.7" stroke="#f0c4c4" stroke-width="1.75"/>
<line x1="99.8" y1="269.0" x2="104.40" y2="271.50" stroke="#8c8c8c" stroke-width="1.75"/>
<line x1="104.40" y1="271.50" x2="109.0" y2="274.0" stroke="#f0c4c4" stroke-width="1.75"/>
<line x1="91.3" y1="274.7" x2="94.50" y2="278.25" stroke="#8c8c8c" stroke-width="1.75"/>
<line x1="94.50" y1="278.25" x2="97.7" y2="281.8" stroke="#f0c4c4" stroke-width="1.75"/>
<line x1="82.8" y1="269.0" x2="81.00" y2="273.60" stroke="#8c8c8c" stroke-width="1.75"/>
<line x1="81.00" y1="273.60" x2="79.2" y2="278.2" stroke="#f0c4c4" stroke-width="1.75"/>
<line x1="91.3" y1="274.7" x2="87.05" y2="277.55" stroke="#8c8c8c" stroke-width="1.75"/>
<line x1="87.05" y1="277.55" x2="82.8" y2="280.4" stroke="#f0c4c4" stroke-width="1.75"/>
<circle cx="52.0" cy="220.9" r="1.95" fill="url(#gdH)"/>
<circle cx="59.5" cy="231.4" r="1.95" fill="url(#gdH)"/>
<circle cx="52.7" cy="224.8" r="2.8" fill="url(#gdO)"/>
<circle cx="77.7" cy="238.4" r="1.95" fill="url(#gdH)"/>
<circle cx="89.2" cy="226.9" r="1.95" fill="url(#gdH)"/>
<circle cx="82.8" cy="233.3" r="2.8" fill="url(#gdO)"/>
<circle cx="89.2" cy="214.2" r="1.95" fill="url(#gdH)"/>
<circle cx="91.1" cy="217.7" r="1.95" fill="url(#gdH)"/>
<circle cx="105.8" cy="210.7" r="1.95" fill="url(#gdH)"/>
<circle cx="101.9" cy="213.9" r="1.95" fill="url(#gdH)"/>
<circle cx="96.2" cy="217.7" r="2.8" fill="url(#gdC)"/>
<circle cx="91.8" cy="238.8" r="1.95" fill="url(#gdH)"/>
<circle cx="100.0" cy="233.7" r="2.8" fill="url(#gdC)"/>
<circle cx="107.0" cy="227.3" r="1.95" fill="url(#gdH)"/>
<circle cx="120.4" cy="227.9" r="1.95" fill="url(#gdH)"/>
<circle cx="115.3" cy="238.8" r="1.95" fill="url(#gdH)"/>
<circle cx="112.8" cy="231.8" r="2.8" fill="url(#gdC)"/>
<circle cx="108.3" cy="241.3" r="2.8" fill="url(#gdN)"/>
<circle cx="36.7" cy="284.4" r="1.95" fill="url(#gdH)"/>
<circle cx="21.7" cy="239.9" r="1.95" fill="url(#gdH)"/>
<circle cx="38.9" cy="238.0" r="1.95" fill="url(#gdH)"/>
<circle cx="30.6" cy="243.7" r="2.8" fill="url(#gdO)"/>
<circle cx="4.2" cy="257.8" r="1.95" fill="url(#gdH)"/>
<circle cx="13.4" cy="259.9" r="1.95" fill="url(#gdH)"/>
<circle cx="12.0" cy="262.7" r="2.8" fill="url(#gdO)"/>
<circle cx="45.5" cy="247.9" r="1.95" fill="url(#gdH)"/>
<circle cx="54.8" cy="260.4" r="1.95" fill="url(#gdH)"/>
<circle cx="47.7" cy="257.2" r="2.8" fill="url(#gdO)"/>
<circle cx="34.7" cy="266.8" r="7.8" fill="url(#gdCa)"/>
<circle cx="14.9" cy="276.9" r="1.95" fill="url(#gdH)"/>
<circle cx="24.1" cy="273.4" r="2.8" fill="url(#gdO)"/>
<circle cx="32.9" cy="296.8" r="1.95" fill="url(#gdH)"/>
<circle cx="36.4" cy="287.4" r="2.8" fill="url(#gdO)"/>
<circle cx="56.7" cy="283.9" r="1.95" fill="url(#gdH)"/>
<circle cx="63.7" cy="297.8" r="1.95" fill="url(#gdH)"/>
<circle cx="54.3" cy="293.8" r="2.8" fill="url(#gdO)"/>
<circle cx="70.7" cy="246.4" r="2.8" fill="url(#gdO)"/>
<circle cx="57.7" cy="266.1" r="2.8" fill="url(#gdO)"/>
<circle cx="69.4" cy="259.8" r="2.8" fill="url(#gdC)"/>
<circle cx="87.0" cy="256.3" r="1.95" fill="url(#gdH)"/>
<circle cx="89.9" cy="262.7" r="1.95" fill="url(#gdH)"/>
<circle cx="109.0" cy="274.0" r="1.95" fill="url(#gdH)"/>
<circle cx="97.7" cy="281.8" r="1.95" fill="url(#gdH)"/>
<circle cx="79.2" cy="278.2" r="1.95" fill="url(#gdH)"/>
<circle cx="82.8" cy="280.4" r="1.95" fill="url(#gdH)"/>
<circle cx="96.2" cy="263.4" r="2.8" fill="url(#gdC)"/>
<circle cx="99.8" cy="269.0" r="2.8" fill="url(#gdC)"/>
<circle cx="82.8" cy="269.0" r="2.8" fill="url(#gdC)"/>
<circle cx="91.3" cy="274.7" r="2.8" fill="url(#gdC)"/>
<circle cx="106.9" cy="254.9" r="2.8" fill="url(#gdC)"/>
<circle cx="116.8" cy="259.1" r="2.8" fill="url(#gdO)"/>
<line x1="52.5" y1="270.5" x2="81.3" y2="293.1" stroke="#111" stroke-width="1.3" marker-end="url(#ah)"/>
<text x="80.8" y="305.8" font-size="10" font-weight="normal" text-anchor="start" fill="#222" >2.40 Å</text>
<text x="33.9" y="330" font-size="11.5" font-weight="bold" text-anchor="start" fill="#111" >Structure A</text>
<clipPath id="cpB"><rect x="120" y="195" width="104" height="115"/></clipPath>
<g clip-path="url(#cpB)">
<line x1="182.0" y1="285.6" x2="195.3" y2="281.1" stroke="#c8c8c8" stroke-width="0.7" stroke-dasharray="1 1.2"/>
<line x1="204.1" y1="291.0" x2="195.3" y2="281.1" stroke="#c8c8c8" stroke-width="0.7" stroke-dasharray="1 1.2"/>
<line x1="185.5" y1="243.2" x2="185.1" y2="260.7" stroke="#c8c8c8" stroke-width="0.7" stroke-dasharray="1 1.2"/>
<line x1="160.5" y1="266.6" x2="158.15" y2="255.60" stroke="#5aa2e2" stroke-width="2.275"/>
<line x1="158.15" y1="255.60" x2="155.8" y2="244.6" stroke="#dc3a48" stroke-width="2.275"/>
<line x1="160.5" y1="266.6" x2="156.35" y2="261.95" stroke="#5aa2e2" stroke-width="2.275"/>
<line x1="156.35" y1="261.95" x2="152.2" y2="257.3" stroke="#dc3a48" stroke-width="2.275"/>
<line x1="160.5" y1="266.6" x2="150.30" y2="272.60" stroke="#5aa2e2" stroke-width="2.275"/>
<line x1="150.30" y1="272.60" x2="140.1" y2="278.6" stroke="#dc3a48" stroke-width="2.275"/>
<line x1="160.5" y1="266.6" x2="163.40" y2="278.65" stroke="#5aa2e2" stroke-width="2.275"/>
<line x1="163.40" y1="278.65" x2="166.3" y2="290.7" stroke="#dc3a48" stroke-width="2.275"/>
<line x1="160.5" y1="266.6" x2="172.80" y2="263.65" stroke="#5aa2e2" stroke-width="2.275"/>
<line x1="172.80" y1="263.65" x2="185.1" y2="260.7" stroke="#dc3a48" stroke-width="2.275"/>
<line x1="155.8" y1="244.6" x2="151.80" y2="241.10" stroke="#dc3a48" stroke-width="1.75"/>
<line x1="151.80" y1="241.10" x2="147.8" y2="237.6" stroke="#f0c4c4" stroke-width="1.75"/>
<line x1="155.8" y1="244.6" x2="160.40" y2="242.15" stroke="#dc3a48" stroke-width="1.75"/>
<line x1="160.40" y1="242.15" x2="165.0" y2="239.7" stroke="#f0c4c4" stroke-width="1.75"/>
<line x1="152.2" y1="257.3" x2="148.70" y2="252.85" stroke="#dc3a48" stroke-width="1.75"/>
<line x1="148.70" y1="252.85" x2="145.2" y2="248.4" stroke="#f0c4c4" stroke-width="1.75"/>
<line x1="140.1" y1="278.6" x2="137.55" y2="275.10" stroke="#dc3a48" stroke-width="1.75"/>
<line x1="137.55" y1="275.10" x2="135.0" y2="271.6" stroke="#f0c4c4" stroke-width="1.75"/>
<line x1="140.1" y1="278.6" x2="136.30" y2="279.25" stroke="#dc3a48" stroke-width="1.75"/>
<line x1="136.30" y1="279.25" x2="132.5" y2="279.9" stroke="#f0c4c4" stroke-width="1.75"/>
<line x1="166.3" y1="290.7" x2="171.25" y2="290.05" stroke="#dc3a48" stroke-width="1.75"/>
<line x1="171.25" y1="290.05" x2="176.2" y2="289.4" stroke="#f0c4c4" stroke-width="1.75"/>
<line x1="166.3" y1="290.7" x2="165.35" y2="295.15" stroke="#dc3a48" stroke-width="1.75"/>
<line x1="165.35" y1="295.15" x2="164.4" y2="299.6" stroke="#f0c4c4" stroke-width="1.75"/>
<line x1="171.4" y1="270.9" x2="168.20" y2="272.50" stroke="#dc3a48" stroke-width="1.75"/>
<line x1="168.20" y1="272.50" x2="165.0" y2="274.1" stroke="#f0c4c4" stroke-width="1.75"/>
<line x1="186.2" y1="294.0" x2="184.10" y2="289.80" stroke="#dc3a48" stroke-width="1.75"/>
<line x1="184.10" y1="289.80" x2="182.0" y2="285.6" stroke="#f0c4c4" stroke-width="1.75"/>
<line x1="186.2" y1="294.0" x2="188.35" y2="291.80" stroke="#dc3a48" stroke-width="1.75"/>
<line x1="188.35" y1="291.80" x2="190.5" y2="289.6" stroke="#f0c4c4" stroke-width="1.75"/>
<line x1="207.5" y1="296.1" x2="205.80" y2="293.55" stroke="#dc3a48" stroke-width="1.75"/>
<line x1="205.80" y1="293.55" x2="204.1" y2="291.0" stroke="#f0c4c4" stroke-width="1.75"/>
<line x1="184.0" y1="233.6" x2="188.30" y2="232.60" stroke="#dc3a48" stroke-width="1.75"/>
<line x1="188.30" y1="232.60" x2="192.6" y2="231.6" stroke="#f0c4c4" stroke-width="1.75"/>
<line x1="184.0" y1="233.6" x2="184.75" y2="238.40" stroke="#dc3a48" stroke-width="1.75"/>
<line x1="184.75" y1="238.40" x2="185.5" y2="243.2" stroke="#f0c4c4" stroke-width="1.75"/>
<line x1="185.1" y1="260.7" x2="190.35" y2="264.35" stroke="#dc3a48" stroke-width="1.75"/>
<line x1="190.35" y1="264.35" x2="195.6" y2="268.0" stroke="#8c8c8c" stroke-width="1.75"/>
<line x1="195.6" y1="268.0" x2="195.45" y2="274.55" stroke="#8c8c8c" stroke-width="1.75"/>
<line x1="195.45" y1="274.55" x2="195.3" y2="281.1" stroke="#dc3a48" stroke-width="1.75"/>
<line x1="195.6" y1="268.0" x2="203.10" y2="265.50" stroke="#8c8c8c" stroke-width="1.75"/>
<line x1="203.10" y1="265.50" x2="210.6" y2="263.0" stroke="#8c8c8c" stroke-width="1.75"/>
<line x1="210.6" y1="263.0" x2="211.15" y2="257.60" stroke="#8c8c8c" stroke-width="1.75"/>
<line x1="211.15" y1="257.60" x2="211.7" y2="252.2" stroke="#f0c4c4" stroke-width="1.75"/>
<line x1="210.6" y1="263.0" x2="212.00" y2="264.95" stroke="#8c8c8c" stroke-width="1.75"/>
<line x1="212.00" y1="264.95" x2="213.4" y2="266.9" stroke="#f0c4c4" stroke-width="1.75"/>
<line x1="210.6" y1="263.0" x2="216.25" y2="258.70" stroke="#8c8c8c" stroke-width="1.75"/>
<line x1="216.25" y1="258.70" x2="221.9" y2="254.4" stroke="#8c8c8c" stroke-width="1.75"/>
<line x1="210.6" y1="263.0" x2="216.25" y2="264.40" stroke="#8c8c8c" stroke-width="1.75"/>
<line x1="216.25" y1="264.40" x2="221.9" y2="265.8" stroke="#8c8c8c" stroke-width="1.75"/>
<line x1="221.9" y1="254.4" x2="221.90" y2="260.10" stroke="#8c8c8c" stroke-width="1.75"/>
<line x1="221.90" y1="260.10" x2="221.9" y2="265.8" stroke="#8c8c8c" stroke-width="1.75"/>
<line x1="221.9" y1="265.8" x2="221.50" y2="270.75" stroke="#8c8c8c" stroke-width="1.75"/>
<line x1="221.50" y1="270.75" x2="221.1" y2="275.7" stroke="#f0c4c4" stroke-width="1.75"/>
<line x1="199.6" y1="220.2" x2="200.00" y2="214.55" stroke="#8c8c8c" stroke-width="1.75"/>
<line x1="200.00" y1="214.55" x2="200.4" y2="208.9" stroke="#f0c4c4" stroke-width="1.75"/>
<line x1="199.6" y1="220.2" x2="194.65" y2="218.95" stroke="#8c8c8c" stroke-width="1.75"/>
<line x1="194.65" y1="218.95" x2="189.7" y2="217.7" stroke="#f0c4c4" stroke-width="1.75"/>
<line x1="199.6" y1="220.2" x2="197.85" y2="222.50" stroke="#8c8c8c" stroke-width="1.75"/>
<line x1="197.85" y1="222.50" x2="196.1" y2="224.8" stroke="#f0c4c4" stroke-width="1.75"/>
<line x1="199.6" y1="220.2" x2="205.80" y2="222.65" stroke="#8c8c8c" stroke-width="1.75"/>
<line x1="205.80" y1="222.65" x2="212.0" y2="225.1" stroke="#8c8c8c" stroke-width="1.75"/>
<line x1="212.0" y1="225.1" x2="211.30" y2="229.55" stroke="#8c8c8c" stroke-width="1.75"/>
<line x1="211.30" y1="229.55" x2="210.6" y2="234.0" stroke="#f0c4c4" stroke-width="1.75"/>
<line x1="212.0" y1="225.1" x2="215.05" y2="218.90" stroke="#8c8c8c" stroke-width="1.75"/>
<line x1="215.05" y1="218.90" x2="218.1" y2="212.7" stroke="#8c8c8c" stroke-width="1.75"/>
<line x1="218.1" y1="212.7" x2="218.45" y2="207.75" stroke="#8c8c8c" stroke-width="1.75"/>
<line x1="218.45" y1="207.75" x2="218.8" y2="202.8" stroke="#f0c4c4" stroke-width="1.75"/>
<line x1="218.1" y1="212.7" x2="214.55" y2="211.10" stroke="#8c8c8c" stroke-width="1.75"/>
<line x1="214.55" y1="211.10" x2="211.0" y2="209.5" stroke="#f0c4c4" stroke-width="1.75"/>
<line x1="218.1" y1="212.7" x2="220.90" y2="213.75" stroke="#8c8c8c" stroke-width="1.75"/>
<line x1="220.90" y1="213.75" x2="223.7" y2="214.8" stroke="#f0c4c4" stroke-width="1.75"/>
<line x1="212.0" y1="225.1" x2="217.50" y2="227.05" stroke="#8c8c8c" stroke-width="1.75"/>
<line x1="217.50" y1="227.05" x2="223.0" y2="229.0" stroke="#9aa6dc" stroke-width="1.75"/>
<circle cx="200.4" cy="208.9" r="1.95" fill="url(#gdH)"/>
<circle cx="189.7" cy="217.7" r="1.95" fill="url(#gdH)"/>
<circle cx="196.1" cy="224.8" r="1.95" fill="url(#gdH)"/>
<circle cx="199.6" cy="220.2" r="2.8" fill="url(#gdC)"/>
<circle cx="210.6" cy="234.0" r="1.95" fill="url(#gdH)"/>
<circle cx="218.8" cy="202.8" r="1.95" fill="url(#gdH)"/>
<circle cx="211.0" cy="209.5" r="1.95" fill="url(#gdH)"/>
<circle cx="223.7" cy="214.8" r="1.95" fill="url(#gdH)"/>
<circle cx="218.1" cy="212.7" r="2.8" fill="url(#gdC)"/>
<circle cx="212.0" cy="225.1" r="2.8" fill="url(#gdC)"/>
<circle cx="223.0" cy="229.0" r="2.8" fill="url(#gdN)"/>
<circle cx="192.6" cy="231.6" r="1.95" fill="url(#gdH)"/>
<circle cx="185.5" cy="243.2" r="1.95" fill="url(#gdH)"/>
<circle cx="184.0" cy="233.6" r="2.8" fill="url(#gdO)"/>
<circle cx="147.8" cy="237.6" r="1.95" fill="url(#gdH)"/>
<circle cx="165.0" cy="239.7" r="1.95" fill="url(#gdH)"/>
<circle cx="155.8" cy="244.6" r="2.8" fill="url(#gdO)"/>
<circle cx="145.2" cy="248.4" r="1.95" fill="url(#gdH)"/>
<circle cx="150.3" cy="263.9" r="1.95" fill="url(#gdH)"/>
<circle cx="152.2" cy="257.3" r="2.8" fill="url(#gdO)"/>
<circle cx="165.0" cy="274.1" r="1.95" fill="url(#gdH)"/>
<circle cx="171.4" cy="270.9" r="2.8" fill="url(#gdO)"/>
<circle cx="135.0" cy="271.6" r="1.95" fill="url(#gdH)"/>
<circle cx="132.5" cy="279.9" r="1.95" fill="url(#gdH)"/>
<circle cx="140.1" cy="278.6" r="2.8" fill="url(#gdO)"/>
<circle cx="160.5" cy="266.6" r="7.8" fill="url(#gdCa)"/>
<circle cx="176.2" cy="289.4" r="1.95" fill="url(#gdH)"/>
<circle cx="164.4" cy="299.6" r="1.95" fill="url(#gdH)"/>
<circle cx="166.3" cy="290.7" r="2.8" fill="url(#gdO)"/>
<circle cx="182.0" cy="285.6" r="1.95" fill="url(#gdH)"/>
<circle cx="190.5" cy="289.6" r="1.95" fill="url(#gdH)"/>
<circle cx="186.2" cy="294.0" r="2.8" fill="url(#gdO)"/>
<circle cx="204.1" cy="291.0" r="1.95" fill="url(#gdH)"/>
<circle cx="207.5" cy="296.1" r="2.8" fill="url(#gdO)"/>
<circle cx="185.1" cy="260.7" r="2.8" fill="url(#gdO)"/>
<circle cx="195.6" cy="268.0" r="2.8" fill="url(#gdC)"/>
<circle cx="195.3" cy="281.1" r="2.8" fill="url(#gdO)"/>
<circle cx="211.7" cy="252.2" r="1.95" fill="url(#gdH)"/>
<circle cx="213.4" cy="266.9" r="1.95" fill="url(#gdH)"/>
<circle cx="210.6" cy="263.0" r="2.8" fill="url(#gdC)"/>
<circle cx="221.1" cy="275.7" r="1.95" fill="url(#gdH)"/>
<circle cx="221.9" cy="254.4" r="2.8" fill="url(#gdC)"/>
<circle cx="221.9" cy="265.8" r="2.8" fill="url(#gdC)"/>
<circle cx="186.2" cy="243.4" r="1.95" fill="url(#gdH)"/>
</g>
<line x1="165" y1="268.9" x2="192.2" y2="281.1" stroke="#111" stroke-width="1.3" stroke-dasharray="1 0.9"/>
<line x1="175.8" y1="273.5" x2="147.1" y2="293.3" stroke="#111" stroke-width="1.3" marker-end="url(#ah)"/>
<text x="162.7" y="256.6" font-size="10" font-weight="normal" text-anchor="start" fill="#222" >2.5 Å</text>
<text x="130.8" y="305.4" font-size="10" font-weight="normal" text-anchor="start" fill="#222" >3.75 Å</text>
<text x="164" y="330" font-size="11.5" font-weight="bold" text-anchor="start" fill="#111" >Structure B</text>
<line x1="306.6" y1="251.4" x2="321.5" y2="256.9" stroke="#c8c8c8" stroke-width="0.7" stroke-dasharray="1 1.2"/>
<line x1="289.2" y1="255.4" x2="299.1" y2="270.6" stroke="#c8c8c8" stroke-width="0.7" stroke-dasharray="1 1.2"/>
<line x1="283.8" y1="278.6" x2="299.1" y2="270.6" stroke="#c8c8c8" stroke-width="0.7" stroke-dasharray="1 1.2"/>
<line x1="324.9" y1="293.6" x2="319.2" y2="279.1" stroke="#c8c8c8" stroke-width="0.7" stroke-dasharray="1 1.2"/>
<line x1="257.7" y1="261.7" x2="256.25" y2="247.80" stroke="#5aa2e2" stroke-width="2.275"/>
<line x1="256.25" y1="247.80" x2="254.8" y2="233.9" stroke="#dc3a48" stroke-width="2.275"/>
<line x1="257.7" y1="261.7" x2="255.25" y2="257.75" stroke="#5aa2e2" stroke-width="2.275"/>
<line x1="255.25" y1="257.75" x2="252.8" y2="253.8" stroke="#dc3a48" stroke-width="2.275"/>
<line x1="257.7" y1="261.7" x2="248.80" y2="269.65" stroke="#5aa2e2" stroke-width="2.275"/>
<line x1="248.80" y1="269.65" x2="239.9" y2="277.6" stroke="#dc3a48" stroke-width="2.275"/>
<line x1="257.7" y1="261.7" x2="265.50" y2="272.60" stroke="#5aa2e2" stroke-width="2.275"/>
<line x1="265.50" y1="272.60" x2="273.3" y2="283.5" stroke="#dc3a48" stroke-width="2.275"/>
<line x1="257.7" y1="261.7" x2="264.80" y2="262.70" stroke="#5aa2e2" stroke-width="2.275"/>
<line x1="264.80" y1="262.70" x2="271.9" y2="263.7" stroke="#dc3a48" stroke-width="2.275"/>
<line x1="257.7" y1="261.7" x2="269.25" y2="256.25" stroke="#5aa2e2" stroke-width="2.275"/>
<line x1="269.25" y1="256.25" x2="280.8" y2="250.8" stroke="#dc3a48" stroke-width="2.275"/>
<line x1="254.8" y1="233.9" x2="259.75" y2="232.25" stroke="#dc3a48" stroke-width="1.75"/>
<line x1="259.75" y1="232.25" x2="264.7" y2="230.6" stroke="#f0c4c4" stroke-width="1.75"/>
<line x1="239.9" y1="277.6" x2="235.15" y2="276.60" stroke="#dc3a48" stroke-width="1.75"/>
<line x1="235.15" y1="276.60" x2="230.4" y2="275.6" stroke="#f0c4c4" stroke-width="1.75"/>
<line x1="239.9" y1="277.6" x2="241.40" y2="279.55" stroke="#dc3a48" stroke-width="1.75"/>
<line x1="241.40" y1="279.55" x2="242.9" y2="281.5" stroke="#f0c4c4" stroke-width="1.75"/>
<line x1="273.3" y1="283.5" x2="278.55" y2="281.05" stroke="#dc3a48" stroke-width="1.75"/>
<line x1="278.55" y1="281.05" x2="283.8" y2="278.6" stroke="#f0c4c4" stroke-width="1.75"/>
<line x1="273.3" y1="283.5" x2="274.10" y2="287.00" stroke="#dc3a48" stroke-width="1.75"/>
<line x1="274.10" y1="287.00" x2="274.9" y2="290.5" stroke="#f0c4c4" stroke-width="1.75"/>
<line x1="271.9" y1="263.7" x2="276.85" y2="262.50" stroke="#dc3a48" stroke-width="1.75"/>
<line x1="276.85" y1="262.50" x2="281.8" y2="261.3" stroke="#f0c4c4" stroke-width="1.75"/>
<line x1="271.9" y1="263.7" x2="271.40" y2="267.65" stroke="#dc3a48" stroke-width="1.75"/>
<line x1="271.40" y1="267.65" x2="270.9" y2="271.6" stroke="#f0c4c4" stroke-width="1.75"/>
<line x1="280.8" y1="250.8" x2="281.30" y2="245.15" stroke="#dc3a48" stroke-width="1.75"/>
<line x1="281.30" y1="245.15" x2="281.8" y2="239.5" stroke="#f0c4c4" stroke-width="1.75"/>
<line x1="280.8" y1="250.8" x2="285.00" y2="253.10" stroke="#dc3a48" stroke-width="1.75"/>
<line x1="285.00" y1="253.10" x2="289.2" y2="255.4" stroke="#f0c4c4" stroke-width="1.75"/>
<line x1="295.7" y1="249.8" x2="294.40" y2="245.85" stroke="#dc3a48" stroke-width="1.75"/>
<line x1="294.40" y1="245.85" x2="293.1" y2="241.9" stroke="#f0c4c4" stroke-width="1.75"/>
<line x1="295.7" y1="249.8" x2="301.15" y2="250.60" stroke="#dc3a48" stroke-width="1.75"/>
<line x1="301.15" y1="250.60" x2="306.6" y2="251.4" stroke="#f0c4c4" stroke-width="1.75"/>
<line x1="299.1" y1="270.6" x2="302.35" y2="271.60" stroke="#dc3a48" stroke-width="1.75"/>
<line x1="302.35" y1="271.60" x2="305.6" y2="272.6" stroke="#f0c4c4" stroke-width="1.75"/>
<line x1="324.3" y1="303.9" x2="324.60" y2="298.75" stroke="#dc3a48" stroke-width="1.75"/>
<line x1="324.60" y1="298.75" x2="324.9" y2="293.6" stroke="#f0c4c4" stroke-width="1.75"/>
<line x1="324.3" y1="303.9" x2="326.90" y2="303.90" stroke="#dc3a48" stroke-width="1.75"/>
<line x1="326.90" y1="303.90" x2="329.5" y2="303.9" stroke="#f0c4c4" stroke-width="1.75"/>
<line x1="321.5" y1="256.9" x2="324.20" y2="263.15" stroke="#dc3a48" stroke-width="1.75"/>
<line x1="324.20" y1="263.15" x2="326.9" y2="269.4" stroke="#8c8c8c" stroke-width="1.75"/>
<line x1="326.9" y1="269.4" x2="323.05" y2="274.25" stroke="#8c8c8c" stroke-width="1.75"/>
<line x1="323.05" y1="274.25" x2="319.2" y2="279.1" stroke="#dc3a48" stroke-width="1.75"/>
<line x1="326.9" y1="269.4" x2="334.35" y2="270.40" stroke="#8c8c8c" stroke-width="1.75"/>
<line x1="334.35" y1="270.40" x2="341.8" y2="271.4" stroke="#8c8c8c" stroke-width="1.75"/>
<line x1="341.8" y1="271.4" x2="346.25" y2="270.60" stroke="#8c8c8c" stroke-width="1.75"/>
<line x1="346.25" y1="270.60" x2="350.7" y2="269.8" stroke="#8c8c8c" stroke-width="1.75"/>
<line x1="341.8" y1="271.4" x2="344.75" y2="264.15" stroke="#8c8c8c" stroke-width="1.75"/>
<line x1="344.75" y1="264.15" x2="347.7" y2="256.9" stroke="#8c8c8c" stroke-width="1.75"/>
<line x1="347.7" y1="256.9" x2="351.90" y2="257.90" stroke="#8c8c8c" stroke-width="1.75"/>
<line x1="351.90" y1="257.90" x2="356.1" y2="258.9" stroke="#8c8c8c" stroke-width="1.75"/>
<line x1="356.1" y1="258.9" x2="353.40" y2="264.35" stroke="#8c8c8c" stroke-width="1.75"/>
<line x1="353.40" y1="264.35" x2="350.7" y2="269.8" stroke="#8c8c8c" stroke-width="1.75"/>
<line x1="347.7" y1="256.9" x2="351.20" y2="250.25" stroke="#8c8c8c" stroke-width="1.75"/>
<line x1="351.20" y1="250.25" x2="354.7" y2="243.6" stroke="#8c8c8c" stroke-width="1.75"/>
<line x1="354.7" y1="243.6" x2="350.40" y2="238.45" stroke="#8c8c8c" stroke-width="1.75"/>
<line x1="350.40" y1="238.45" x2="346.1" y2="233.3" stroke="#9aa6dc" stroke-width="1.75"/>
<line x1="346.1" y1="233.3" x2="339.40" y2="231.20" stroke="#9aa6dc" stroke-width="1.75"/>
<line x1="339.40" y1="231.20" x2="332.7" y2="229.1" stroke="#8c8c8c" stroke-width="1.75"/>
<line x1="346.1" y1="233.3" x2="348.95" y2="229.40" stroke="#9aa6dc" stroke-width="1.75"/>
<line x1="348.95" y1="229.40" x2="351.8" y2="225.5" stroke="#f0c4c4" stroke-width="1.75"/>
<line x1="332.7" y1="229.1" x2="328.10" y2="225.20" stroke="#8c8c8c" stroke-width="1.75"/>
<line x1="328.10" y1="225.20" x2="323.5" y2="221.3" stroke="#8c8c8c" stroke-width="1.75"/>
<line x1="332.7" y1="229.1" x2="333.75" y2="223.75" stroke="#8c8c8c" stroke-width="1.75"/>
<line x1="333.75" y1="223.75" x2="334.8" y2="218.4" stroke="#8c8c8c" stroke-width="1.75"/>
<line x1="332.7" y1="229.1" x2="330.55" y2="233.55" stroke="#8c8c8c" stroke-width="1.75"/>
<line x1="330.55" y1="233.55" x2="328.4" y2="238.0" stroke="#f0c4c4" stroke-width="1.75"/>
<line x1="323.5" y1="221.3" x2="318.90" y2="220.20" stroke="#8c8c8c" stroke-width="1.75"/>
<line x1="318.90" y1="220.20" x2="314.3" y2="219.1" stroke="#f0c4c4" stroke-width="1.75"/>
<line x1="323.5" y1="221.3" x2="322.40" y2="224.45" stroke="#8c8c8c" stroke-width="1.75"/>
<line x1="322.40" y1="224.45" x2="321.3" y2="227.6" stroke="#f0c4c4" stroke-width="1.75"/>
<line x1="323.5" y1="221.3" x2="324.20" y2="218.80" stroke="#8c8c8c" stroke-width="1.75"/>
<line x1="324.20" y1="218.80" x2="324.9" y2="216.3" stroke="#f0c4c4" stroke-width="1.75"/>
<line x1="334.8" y1="218.4" x2="336.95" y2="213.80" stroke="#8c8c8c" stroke-width="1.75"/>
<line x1="336.95" y1="213.80" x2="339.1" y2="209.2" stroke="#f0c4c4" stroke-width="1.75"/>
<line x1="334.8" y1="218.4" x2="338.00" y2="220.55" stroke="#8c8c8c" stroke-width="1.75"/>
<line x1="338.00" y1="220.55" x2="341.2" y2="222.7" stroke="#f0c4c4" stroke-width="1.75"/>
<line x1="334.8" y1="218.4" x2="331.25" y2="215.60" stroke="#8c8c8c" stroke-width="1.75"/>
<line x1="331.25" y1="215.60" x2="327.7" y2="212.8" stroke="#f0c4c4" stroke-width="1.75"/>
<line x1="347.7" y1="256.9" x2="342.75" y2="256.20" stroke="#8c8c8c" stroke-width="1.75"/>
<line x1="342.75" y1="256.20" x2="337.8" y2="255.5" stroke="#f0c4c4" stroke-width="1.75"/>
<line x1="347.7" y1="256.9" x2="346.20" y2="259.55" stroke="#8c8c8c" stroke-width="1.75"/>
<line x1="346.20" y1="259.55" x2="344.7" y2="262.2" stroke="#f0c4c4" stroke-width="1.75"/>
<line x1="356.1" y1="258.9" x2="359.35" y2="258.90" stroke="#8c8c8c" stroke-width="1.75"/>
<line x1="359.35" y1="258.90" x2="362.6" y2="258.9" stroke="#f0c4c4" stroke-width="1.75"/>
<line x1="356.1" y1="258.9" x2="356.90" y2="262.15" stroke="#8c8c8c" stroke-width="1.75"/>
<line x1="356.90" y1="262.15" x2="357.7" y2="265.4" stroke="#f0c4c4" stroke-width="1.75"/>
<line x1="350.7" y1="269.8" x2="356.15" y2="270.80" stroke="#8c8c8c" stroke-width="1.75"/>
<line x1="356.15" y1="270.80" x2="361.6" y2="271.8" stroke="#f0c4c4" stroke-width="1.75"/>
<line x1="350.7" y1="269.8" x2="351.70" y2="274.75" stroke="#8c8c8c" stroke-width="1.75"/>
<line x1="351.70" y1="274.75" x2="352.7" y2="279.7" stroke="#f0c4c4" stroke-width="1.75"/>
<line x1="341.8" y1="271.4" x2="343.55" y2="276.35" stroke="#8c8c8c" stroke-width="1.75"/>
<line x1="343.55" y1="276.35" x2="345.3" y2="281.3" stroke="#f0c4c4" stroke-width="1.75"/>
<line x1="354.7" y1="243.6" x2="354.20" y2="248.25" stroke="#8c8c8c" stroke-width="1.75"/>
<line x1="354.20" y1="248.25" x2="353.7" y2="252.9" stroke="#f0c4c4" stroke-width="1.75"/>
<circle cx="314.3" cy="219.1" r="1.95" fill="url(#gdH)"/>
<circle cx="321.3" cy="227.6" r="1.95" fill="url(#gdH)"/>
<circle cx="324.9" cy="216.3" r="1.95" fill="url(#gdH)"/>
<circle cx="323.5" cy="221.3" r="2.8" fill="url(#gdC)"/>
<circle cx="339.1" cy="209.2" r="1.95" fill="url(#gdH)"/>
<circle cx="341.2" cy="222.7" r="1.95" fill="url(#gdH)"/>
<circle cx="327.7" cy="212.8" r="1.95" fill="url(#gdH)"/>
<circle cx="334.8" cy="218.4" r="2.8" fill="url(#gdC)"/>
<circle cx="328.4" cy="238.0" r="1.95" fill="url(#gdH)"/>
<circle cx="332.7" cy="229.1" r="2.8" fill="url(#gdC)"/>
<circle cx="351.8" cy="225.5" r="1.95" fill="url(#gdH)"/>
<circle cx="346.1" cy="233.3" r="2.8" fill="url(#gdN)"/>
<circle cx="354.7" cy="243.6" r="2.8" fill="url(#gdC)"/>
<circle cx="337.8" cy="255.5" r="1.95" fill="url(#gdH)"/>
<circle cx="344.7" cy="262.2" r="1.95" fill="url(#gdH)"/>
<circle cx="362.6" cy="258.9" r="1.95" fill="url(#gdH)"/>
<circle cx="353.7" cy="252.9" r="1.95" fill="url(#gdH)"/>
<circle cx="347.7" cy="256.9" r="2.8" fill="url(#gdC)"/>
<circle cx="356.1" cy="258.9" r="2.8" fill="url(#gdC)"/>
<circle cx="361.6" cy="271.8" r="1.95" fill="url(#gdH)"/>
<circle cx="357.7" cy="265.4" r="1.95" fill="url(#gdH)"/>
<circle cx="345.3" cy="281.3" r="1.95" fill="url(#gdH)"/>
<circle cx="352.7" cy="279.7" r="1.95" fill="url(#gdH)"/>
<circle cx="341.8" cy="271.4" r="2.8" fill="url(#gdC)"/>
<circle cx="350.7" cy="269.8" r="2.8" fill="url(#gdC)"/>
<circle cx="321.5" cy="256.9" r="2.8" fill="url(#gdO)"/>
<circle cx="326.9" cy="269.4" r="2.8" fill="url(#gdC)"/>
<circle cx="319.2" cy="279.1" r="2.8" fill="url(#gdO)"/>
<circle cx="324.9" cy="293.6" r="1.95" fill="url(#gdH)"/>
<circle cx="329.5" cy="303.9" r="1.95" fill="url(#gdH)"/>
<circle cx="324.3" cy="303.9" r="2.8" fill="url(#gdO)"/>
<circle cx="293.1" cy="241.9" r="1.95" fill="url(#gdH)"/>
<circle cx="306.6" cy="251.4" r="1.95" fill="url(#gdH)"/>
<circle cx="295.7" cy="249.8" r="2.8" fill="url(#gdO)"/>
<circle cx="305.6" cy="272.6" r="1.95" fill="url(#gdH)"/>
<circle cx="299.1" cy="270.6" r="2.8" fill="url(#gdO)"/>
<circle cx="252.8" cy="253.8" r="2.8" fill="url(#gdO)"/>
<circle cx="264.7" cy="230.6" r="1.95" fill="url(#gdH)"/>
<circle cx="254.8" cy="233.9" r="2.8" fill="url(#gdO)"/>
<circle cx="281.8" cy="239.5" r="1.95" fill="url(#gdH)"/>
<circle cx="289.2" cy="255.4" r="1.95" fill="url(#gdH)"/>
<circle cx="280.8" cy="250.8" r="2.8" fill="url(#gdO)"/>
<circle cx="230.4" cy="275.6" r="1.95" fill="url(#gdH)"/>
<circle cx="242.9" cy="281.5" r="1.95" fill="url(#gdH)"/>
<circle cx="239.9" cy="277.6" r="2.8" fill="url(#gdO)"/>
<circle cx="257.7" cy="261.7" r="7.8" fill="url(#gdCa)"/>
<circle cx="281.8" cy="261.3" r="1.95" fill="url(#gdH)"/>
<circle cx="270.9" cy="271.6" r="1.95" fill="url(#gdH)"/>
<circle cx="271.9" cy="263.7" r="2.8" fill="url(#gdO)"/>
<circle cx="283.8" cy="278.6" r="1.95" fill="url(#gdH)"/>
<circle cx="274.9" cy="290.5" r="1.95" fill="url(#gdH)"/>
<circle cx="273.3" cy="283.5" r="2.8" fill="url(#gdO)"/>
<line x1="271.9" y1="266.7" x2="319.5" y2="277.6" stroke="#111" stroke-width="1.3" stroke-dasharray="1 0.9"/>
<text x="296.9" y="290.6" font-size="10" font-weight="normal" text-anchor="start" fill="#222" >6.39 Å</text>
<text x="294.7" y="330" font-size="11.5" font-weight="bold" text-anchor="start" fill="#111" >Structure C</text>
<text x="19.8" y="211" font-size="21" font-weight="normal" text-anchor="start" fill="#111" >(d)</text>
<line x1="618.7" y1="242.3" x2="617.35" y2="238.30" stroke="#e00000" stroke-width="2.6"/>
<line x1="617.35" y1="238.30" x2="616.0" y2="234.3" stroke="#e6e6e6" stroke-width="2.6"/>
<line x1="618.7" y1="242.3" x2="620.10" y2="240.95" stroke="#e00000" stroke-width="2.6"/>
<line x1="620.10" y1="240.95" x2="621.5" y2="239.6" stroke="#e6e6e6" stroke-width="2.6"/>
<line x1="609.1" y1="255.5" x2="611.25" y2="256.05" stroke="#e00000" stroke-width="2.6"/>
<line x1="611.25" y1="256.05" x2="613.4" y2="256.6" stroke="#e6e6e6" stroke-width="2.6"/>
<line x1="595.3" y1="266.6" x2="593.50" y2="262.65" stroke="#e00000" stroke-width="2.6"/>
<line x1="593.50" y1="262.65" x2="591.7" y2="258.7" stroke="#e6e6e6" stroke-width="2.6"/>
<line x1="595.3" y1="266.6" x2="593.15" y2="268.00" stroke="#e00000" stroke-width="2.6"/>
<line x1="593.15" y1="268.00" x2="591.0" y2="269.4" stroke="#e6e6e6" stroke-width="2.6"/>
<line x1="625.7" y1="277.2" x2="621.70" y2="278.05" stroke="#e00000" stroke-width="2.6"/>
<line x1="621.70" y1="278.05" x2="617.7" y2="278.9" stroke="#e6e6e6" stroke-width="2.6"/>
<line x1="625.7" y1="277.2" x2="629.65" y2="279.65" stroke="#e00000" stroke-width="2.6"/>
<line x1="629.65" y1="279.65" x2="633.6" y2="282.1" stroke="#e6e6e6" stroke-width="2.6"/>
<line x1="610.9" y1="292.1" x2="608.95" y2="294.90" stroke="#e00000" stroke-width="2.6"/>
<line x1="608.95" y1="294.90" x2="607.0" y2="297.7" stroke="#e6e6e6" stroke-width="2.6"/>
<line x1="610.9" y1="292.1" x2="614.30" y2="295.30" stroke="#e00000" stroke-width="2.6"/>
<line x1="614.30" y1="295.30" x2="617.7" y2="298.5" stroke="#e6e6e6" stroke-width="2.6"/>
<line x1="643.1" y1="219.9" x2="645.50" y2="214.85" stroke="#3fb7b7" stroke-width="2.6"/>
<line x1="645.50" y1="214.85" x2="647.9" y2="209.8" stroke="#e6e6e6" stroke-width="2.6"/>
<line x1="643.1" y1="219.9" x2="637.65" y2="218.45" stroke="#3fb7b7" stroke-width="2.6"/>
<line x1="637.65" y1="218.45" x2="632.2" y2="217.0" stroke="#e6e6e6" stroke-width="2.6"/>
<line x1="643.1" y1="219.9" x2="647.05" y2="218.45" stroke="#3fb7b7" stroke-width="2.6"/>
<line x1="647.05" y1="218.45" x2="651.0" y2="217.0" stroke="#e6e6e6" stroke-width="2.6"/>
<line x1="643.1" y1="219.9" x2="645.85" y2="226.65" stroke="#3fb7b7" stroke-width="2.6"/>
<line x1="645.85" y1="226.65" x2="648.6" y2="233.4" stroke="#3fb7b7" stroke-width="2.6"/>
<line x1="648.6" y1="233.4" x2="642.80" y2="231.25" stroke="#3fb7b7" stroke-width="2.6"/>
<line x1="642.80" y1="231.25" x2="637.0" y2="229.1" stroke="#e6e6e6" stroke-width="2.6"/>
<line x1="648.6" y1="233.4" x2="645.85" y2="237.25" stroke="#3fb7b7" stroke-width="2.6"/>
<line x1="645.85" y1="237.25" x2="643.1" y2="241.1" stroke="#e6e6e6" stroke-width="2.6"/>
<line x1="648.6" y1="233.4" x2="656.10" y2="234.25" stroke="#3fb7b7" stroke-width="2.6"/>
<line x1="656.10" y1="234.25" x2="663.6" y2="235.1" stroke="#1010e6" stroke-width="2.6"/>
<line x1="663.6" y1="235.1" x2="666.00" y2="231.85" stroke="#1010e6" stroke-width="2.6"/>
<line x1="666.00" y1="231.85" x2="668.4" y2="228.6" stroke="#e6e6e6" stroke-width="2.6"/>
<line x1="663.6" y1="235.1" x2="666.30" y2="241.05" stroke="#1010e6" stroke-width="2.6"/>
<line x1="666.30" y1="241.05" x2="669.0" y2="247.0" stroke="#3fb7b7" stroke-width="2.6"/>
<line x1="669.0" y1="247.0" x2="675.20" y2="247.40" stroke="#3fb7b7" stroke-width="2.6"/>
<line x1="675.20" y1="247.40" x2="681.4" y2="247.8" stroke="#e00000" stroke-width="2.6"/>
<line x1="669.0" y1="247.0" x2="664.30" y2="253.65" stroke="#3fb7b7" stroke-width="2.6"/>
<line x1="664.30" y1="253.65" x2="659.6" y2="260.3" stroke="#3fb7b7" stroke-width="2.6"/>
<line x1="659.6" y1="260.3" x2="654.15" y2="263.00" stroke="#3fb7b7" stroke-width="2.6"/>
<line x1="654.15" y1="263.00" x2="648.7" y2="265.7" stroke="#3fb7b7" stroke-width="2.6"/>
<line x1="648.7" y1="265.7" x2="646.35" y2="260.65" stroke="#3fb7b7" stroke-width="2.6"/>
<line x1="646.35" y1="260.65" x2="644.0" y2="255.6" stroke="#e00000" stroke-width="2.6"/>
<line x1="648.7" y1="265.7" x2="644.00" y2="269.20" stroke="#3fb7b7" stroke-width="2.6"/>
<line x1="644.00" y1="269.20" x2="639.3" y2="272.7" stroke="#e00000" stroke-width="2.6"/>
<line x1="659.6" y1="260.3" x2="661.55" y2="263.80" stroke="#3fb7b7" stroke-width="2.6"/>
<line x1="661.55" y1="263.80" x2="663.5" y2="267.3" stroke="#3fb7b7" stroke-width="2.6"/>
<line x1="659.6" y1="260.3" x2="659.20" y2="267.30" stroke="#3fb7b7" stroke-width="2.6"/>
<line x1="659.20" y1="267.30" x2="658.8" y2="274.3" stroke="#3fb7b7" stroke-width="2.6"/>
<line x1="663.5" y1="267.3" x2="661.15" y2="270.80" stroke="#3fb7b7" stroke-width="2.6"/>
<line x1="661.15" y1="270.80" x2="658.8" y2="274.3" stroke="#3fb7b7" stroke-width="2.6"/>
<line x1="663.5" y1="267.3" x2="667.40" y2="266.90" stroke="#3fb7b7" stroke-width="2.6"/>
<line x1="667.40" y1="266.90" x2="671.3" y2="266.5" stroke="#e6e6e6" stroke-width="2.6"/>
<line x1="663.5" y1="267.3" x2="669.35" y2="271.55" stroke="#3fb7b7" stroke-width="2.6"/>
<line x1="669.35" y1="271.55" x2="675.2" y2="275.8" stroke="#e6e6e6" stroke-width="2.6"/>
<line x1="658.8" y1="274.3" x2="658.05" y2="276.25" stroke="#3fb7b7" stroke-width="2.6"/>
<line x1="658.05" y1="276.25" x2="657.3" y2="278.2" stroke="#e6e6e6" stroke-width="2.6"/>
<line x1="658.8" y1="274.3" x2="663.10" y2="275.85" stroke="#3fb7b7" stroke-width="2.6"/>
<line x1="663.10" y1="275.85" x2="667.4" y2="277.4" stroke="#e6e6e6" stroke-width="2.6"/>
<line x1="659.6" y1="260.3" x2="654.55" y2="259.90" stroke="#3fb7b7" stroke-width="2.6"/>
<line x1="654.55" y1="259.90" x2="649.5" y2="259.5" stroke="#e6e6e6" stroke-width="2.6"/>
<line x1="663.5" y1="267.3" x2="666.85" y2="263.40" stroke="#3fb7b7" stroke-width="2.6"/>
<line x1="666.85" y1="263.40" x2="670.2" y2="259.5" stroke="#e6e6e6" stroke-width="2.6"/>
<circle cx="616.0" cy="234.3" r="1.7" fill="url(#geH)"/>
<circle cx="621.5" cy="239.6" r="1.7" fill="url(#geH)"/>
<circle cx="618.7" cy="242.3" r="3.0" fill="url(#geO)"/>
<circle cx="613.4" cy="256.6" r="1.7" fill="url(#geH)"/>
<circle cx="609.1" cy="255.5" r="3.0" fill="url(#geO)"/>
<circle cx="591.7" cy="258.7" r="1.7" fill="url(#geH)"/>
<circle cx="591.0" cy="269.4" r="1.7" fill="url(#geH)"/>
<circle cx="595.3" cy="266.6" r="3.0" fill="url(#geO)"/>
<circle cx="618.1" cy="266.6" r="7.0" fill="url(#geCa)"/>
<circle cx="617.7" cy="278.9" r="1.7" fill="url(#geH)"/>
<circle cx="633.6" cy="282.1" r="1.7" fill="url(#geH)"/>
<circle cx="625.7" cy="277.2" r="3.0" fill="url(#geO)"/>
<circle cx="607.0" cy="297.7" r="1.7" fill="url(#geH)"/>
<circle cx="617.7" cy="298.5" r="1.7" fill="url(#geH)"/>
<circle cx="610.9" cy="292.1" r="3.0" fill="url(#geO)"/>
<circle cx="647.9" cy="209.8" r="1.7" fill="url(#geH)"/>
<circle cx="632.2" cy="217.0" r="1.7" fill="url(#geH)"/>
<circle cx="651.0" cy="217.0" r="1.7" fill="url(#geH)"/>
<circle cx="643.1" cy="219.9" r="2.5" fill="url(#geC)"/>
<circle cx="637.0" cy="229.1" r="1.7" fill="url(#geH)"/>
<circle cx="643.1" cy="241.1" r="1.7" fill="url(#geH)"/>
<circle cx="648.6" cy="233.4" r="2.5" fill="url(#geC)"/>
<circle cx="668.4" cy="228.6" r="1.7" fill="url(#geH)"/>
<circle cx="663.6" cy="235.1" r="2.6" fill="url(#geN)"/>
<circle cx="669.0" cy="247.0" r="2.5" fill="url(#geC)"/>
<circle cx="681.4" cy="247.8" r="3.0" fill="url(#geO)"/>
<circle cx="649.5" cy="259.5" r="1.7" fill="url(#geH)"/>
<circle cx="670.2" cy="259.5" r="1.7" fill="url(#geH)"/>
<circle cx="671.3" cy="266.5" r="1.7" fill="url(#geH)"/>
<circle cx="659.6" cy="260.3" r="2.5" fill="url(#geC)"/>
<circle cx="644.0" cy="255.6" r="3.0" fill="url(#geO)"/>
<circle cx="648.7" cy="265.7" r="2.5" fill="url(#geC)"/>
<circle cx="639.3" cy="272.7" r="3.0" fill="url(#geO)"/>
<circle cx="675.2" cy="275.8" r="1.7" fill="url(#geH)"/>
<circle cx="657.3" cy="278.2" r="1.7" fill="url(#geH)"/>
<circle cx="667.4" cy="277.4" r="1.7" fill="url(#geH)"/>
<circle cx="663.5" cy="267.3" r="2.5" fill="url(#geC)"/>
<circle cx="658.8" cy="274.3" r="2.5" fill="url(#geC)"/>
<path d="M630.5 259.5 L634 261 L640.5 263.5 L639 267 L633 266.5 L631.5 263 Z" fill="#1f9c8a"/>
<path d="M632 262.5 L636 264 L635 266.5 L632.5 265 Z" fill="#c77a2a"/>
<path d="M636 262.5 L640.5 263.5 L639.5 266 L636.5 265.5 Z" fill="#2bb3a0"/>
<ellipse cx="628.6" cy="269.8" rx="1.1" ry="2.2" transform="rotate(20 628.6 269.8)" fill="#0d1a9c"/>
<defs><linearGradient id="ge" gradientUnits="userSpaceOnUse" x1="415" y1="0" x2="556" y2="0"><stop offset="0.142" stop-color="#0a0aff"/><stop offset="0.713" stop-color="#00ff00"/><stop offset="1" stop-color="#ff1010"/></linearGradient><linearGradient id="gcb" x1="0" y1="0" x2="0" y2="1"><stop offset="0" stop-color="#ff0a0a"/><stop offset="0.333" stop-color="#00ff00"/><stop offset="1" stop-color="#0000ff"/></linearGradient></defs>
<path d="M465 210h53v1h-53zM461 211h58v1h-58zM456 212h64v1h-64zM451 213h69v1h-69zM447 214h74v1h-74zM442 215h79v1h-79zM438 216h84v1h-84zM433 217h89v1h-89zM428 218h95v1h-95zM424 219h99v1h-99zM419 220h105v1h-105zM415 221h109v1h-109zM415 222h109v1h-109zM415 223h109v1h-109zM415 224h110v1h-110zM415 225h111v1h-111zM415 226h111v1h-111zM415 227h112v1h-112zM415 228h113v1h-113zM415 229h114v1h-114zM415 230h115v1h-115zM415 231h115v1h-115zM415 232h116v1h-116zM415 233h117v1h-117zM415 234h118v1h-118zM415 235h119v1h-119zM415 236h119v1h-119zM415 237h120v1h-120zM415 238h121v1h-121zM415 239h122v1h-122zM415 240h123v1h-123zM415 241h123v1h-123zM415 242h97v1h-97zM513 242h26v1h-26zM415 243h97v1h-97zM513 243h27v1h-27zM415 244h97v1h-97zM513 244h28v1h-28zM415 245h95v1h-95zM513 245h29v1h-29zM415 246h95v1h-95zM513 246h29v1h-29zM415 247h94v1h-94zM513 247h30v1h-30zM415 248h94v1h-94zM513 248h31v1h-31zM415 249h93v1h-93zM513 249h32v1h-32zM415 250h93v1h-93zM513 250h33v1h-33zM415 251h92v1h-92zM513 251h34v1h-34zM415 252h92v1h-92zM513 252h35v1h-35zM415 253h91v1h-91zM513 253h3v1h-3zM517 253h32v1h-32zM415 254h91v1h-91zM513 254h3v1h-3zM517 254h33v1h-33zM415 255h90v1h-90zM513 255h3v1h-3zM517 255h34v1h-34zM470 256h35v1h-35zM513 256h3v1h-3zM518 256h34v1h-34zM470 257h34v1h-34zM513 257h3v1h-3zM518 257h35v1h-35zM470 258h34v1h-34zM513 258h3v1h-3zM518 258h37v1h-37zM470 259h33v1h-33zM513 259h3v1h-3zM519 259h37v1h-37zM470 260h33v1h-33zM513 260h3v1h-3zM519 260h37v1h-37zM470 261h32v1h-32zM513 261h3v1h-3zM519 261h37v1h-37zM480 262h22v1h-22zM513 262h3v1h-3zM519 262h37v1h-37zM480 263h21v1h-21zM513 263h3v1h-3zM520 263h36v1h-36zM480 264h21v1h-21zM513 264h3v1h-3zM520 264h36v1h-36zM481 265h19v1h-19zM513 265h3v1h-3zM520 265h36v1h-36zM481 266h19v1h-19zM513 266h3v1h-3zM520 266h36v1h-36zM481 267h18v1h-18zM513 267h3v1h-3zM521 267h35v1h-35zM481 268h18v1h-18zM513 268h3v1h-3zM521 268h35v1h-35zM481 269h17v1h-17zM513 269h3v1h-3zM521 269h35v1h-35zM482 270h16v1h-16zM513 270h3v1h-3zM521 270h35v1h-35zM482 271h15v1h-15zM513 271h3v1h-3zM522 271h34v1h-34zM482 272h15v1h-15zM513 272h3v1h-3zM522 272h34v1h-34zM482 273h14v1h-14zM513 273h3v1h-3zM522 273h34v1h-34zM482 274h14v1h-14zM513 274h3v1h-3zM522 274h34v1h-34zM482 275h13v1h-13zM513 275h3v1h-3zM523 275h33v1h-33zM482 276h13v1h-13zM513 276h3v1h-3zM523 276h33v1h-33zM482 277h12v1h-12zM513 277h3v1h-3zM523 277h33v1h-33zM482 278h12v1h-12zM513 278h3v1h-3zM523 278h33v1h-33zM483 279h10v1h-10zM513 279h3v1h-3zM524 279h32v1h-32zM483 280h10v1h-10zM513 280h3v1h-3zM524 280h32v1h-32zM483 281h9v1h-9zM513 281h3v1h-3zM524 281h32v1h-32zM483 282h9v1h-9zM513 282h3v1h-3zM524 282h32v1h-32zM483 283h9v1h-9zM513 283h3v1h-3zM525 283h31v1h-31zM483 284h8v1h-8zM514 284h2v1h-2zM525 284h31v1h-31zM483 285h8v1h-8zM514 285h2v1h-2zM526 285h30v1h-30zM483 286h8v1h-8zM514 286h2v1h-2zM526 286h30v1h-30zM483 287h7v1h-7zM514 287h2v1h-2zM527 287h28v1h-28zM483 288h7v1h-7zM514 288h2v1h-2zM528 288h27v1h-27zM484 289h6v1h-6zM514 289h2v1h-2zM529 289h25v1h-25zM484 290h5v1h-5zM514 290h2v1h-2zM529 290h25v1h-25zM484 291h5v1h-5zM514 291h2v1h-2zM530 291h23v1h-23zM484 292h5v1h-5zM514 292h2v1h-2zM531 292h22v1h-22zM484 293h5v1h-5zM514 293h2v1h-2zM532 293h20v1h-20zM484 294h4v1h-4zM514 294h1v1h-1zM532 294h20v1h-20zM484 295h4v1h-4zM514 295h1v1h-1zM533 295h19v1h-19zM484 296h4v1h-4zM514 296h1v1h-1zM534 296h17v1h-17zM484 297h3v1h-3zM514 297h1v1h-1zM535 297h16v1h-16zM484 298h3v1h-3zM535 298h5v1h-5zM484 299h3v1h-3zM536 299h5v1h-5zM484 300h3v1h-3zM537 300h5v1h-5zM483 301h3v1h-3zM537 301h5v1h-5zM483 302h3v1h-3zM538 302h5v1h-5zM483 303h3v1h-3zM538 303h5v1h-5zM483 304h2v1h-2zM539 304h5v1h-5zM483 305h2v1h-2zM540 305h5v1h-5zM483 306h2v1h-2zM540 306h5v1h-5zM483 307h1v1h-1zM541 307h5v1h-5zM483 308h1v1h-1zM542 308h5v1h-5zM483 309h1v1h-1zM542 309h5v1h-5zM483 310h1v1h-1zM543 310h3v1h-3zM543 311h3v1h-3zM482 312h1v1h-1zM544 312h2v1h-2zM482 313h1v1h-1zM544 313h2v1h-2zM544 314h1v1h-1z" fill="url(#ge)"/>
<path d="M524 221h1v1h-1zM524 222h1v1h-1zM524 223h1v1h-1zM526 224h1v1h-1zM526 225h1v1h-1zM526 226h1v1h-1zM527 227h2v1h-2zM528 228h2v1h-2zM529 229h1v1h-1zM531 230h1v1h-1zM530 231h2v1h-2zM531 232h2v1h-2zM533 233h1v1h-1zM533 234h1v1h-1zM534 236h2v1h-2zM535 237h1v1h-1zM536 238h2v1h-2zM538 240h2v1h-2zM538 241h2v1h-2zM540 243h2v1h-2zM542 244h1v1h-1zM542 245h2v1h-2zM543 246h1v1h-1zM543 247h1v1h-1zM544 248h1v1h-1zM546 249h1v1h-1zM546 250h1v1h-1zM547 251h2v1h-2zM549 252h1v1h-1zM551 255h1v1h-1zM416 256h1v1h-1zM418 256h2v1h-2zM422 256h5v1h-5zM429 256h2v1h-2zM432 256h2v1h-2zM435 256h7v1h-7zM445 256h8v1h-8zM454 256h8v1h-8zM463 256h4v1h-4zM469 256h1v1h-1zM553 256h1v1h-1zM555 256h1v1h-1zM416 257h1v1h-1zM418 257h2v1h-2zM421 257h2v1h-2zM426 257h4v1h-4zM431 257h1v1h-1zM433 257h2v1h-2zM437 257h3v1h-3zM441 257h1v1h-1zM444 257h1v1h-1zM446 257h4v1h-4zM451 257h2v1h-2zM454 257h1v1h-1zM457 257h1v1h-1zM459 257h3v1h-3zM464 257h3v1h-3zM554 257h2v1h-2zM415 258h5v1h-5zM422 258h1v1h-1zM424 258h3v1h-3zM428 258h1v1h-1zM430 258h1v1h-1zM433 258h4v1h-4zM438 258h1v1h-1zM441 258h1v1h-1zM443 258h6v1h-6zM450 258h1v1h-1zM452 258h3v1h-3zM456 258h2v1h-2zM460 258h3v1h-3zM464 258h1v1h-1zM466 258h1v1h-1zM469 258h1v1h-1zM555 258h1v1h-1zM416 259h1v1h-1zM420 259h1v1h-1zM423 259h1v1h-1zM429 259h1v1h-1zM431 259h1v1h-1zM433 259h2v1h-2zM438 259h3v1h-3zM442 259h1v1h-1zM445 259h1v1h-1zM447 259h1v1h-1zM449 259h1v1h-1zM451 259h2v1h-2zM454 259h3v1h-3zM460 259h1v1h-1zM462 259h2v1h-2zM466 259h1v1h-1zM469 259h1v1h-1zM415 260h4v1h-4zM422 260h2v1h-2zM425 260h3v1h-3zM430 260h1v1h-1zM432 260h1v1h-1zM434 260h2v1h-2zM437 260h1v1h-1zM439 260h4v1h-4zM446 260h3v1h-3zM451 260h2v1h-2zM455 260h1v1h-1zM457 260h2v1h-2zM460 260h3v1h-3zM464 260h1v1h-1zM467 260h3v1h-3zM415 261h1v1h-1zM417 261h3v1h-3zM421 261h1v1h-1zM424 261h1v1h-1zM426 261h1v1h-1zM428 261h5v1h-5zM435 261h4v1h-4zM440 261h2v1h-2zM443 261h2v1h-2zM446 261h1v1h-1zM449 261h7v1h-7zM457 261h1v1h-1zM459 261h1v1h-1zM462 261h2v1h-2zM467 261h3v1h-3zM416 262h3v1h-3zM420 262h1v1h-1zM422 262h2v1h-2zM425 262h1v1h-1zM435 262h2v1h-2zM439 262h2v1h-2zM442 262h2v1h-2zM447 262h1v1h-1zM451 262h2v1h-2zM456 262h4v1h-4zM462 262h2v1h-2zM465 262h1v1h-1zM469 262h1v1h-1zM472 262h8v1h-8zM415 263h1v1h-1zM422 263h1v1h-1zM433 263h3v1h-3zM438 263h1v1h-1zM441 263h1v1h-1zM444 263h1v1h-1zM448 263h2v1h-2zM452 263h2v1h-2zM455 263h2v1h-2zM460 263h6v1h-6zM467 263h1v1h-1zM469 263h8v1h-8zM478 263h2v1h-2zM422 264h1v1h-1zM424 264h1v1h-1zM432 264h1v1h-1zM446 264h1v1h-1zM454 264h1v1h-1zM459 264h1v1h-1zM463 264h1v1h-1zM467 264h1v1h-1zM469 264h2v1h-2zM472 264h1v1h-1zM474 264h6v1h-6zM419 265h3v1h-3zM423 265h1v1h-1zM426 265h2v1h-2zM430 265h1v1h-1zM432 265h1v1h-1zM434 265h2v1h-2zM437 265h1v1h-1zM443 265h1v1h-1zM445 265h2v1h-2zM448 265h2v1h-2zM451 265h1v1h-1zM453 265h2v1h-2zM460 265h2v1h-2zM468 265h1v1h-1zM471 265h5v1h-5zM477 265h4v1h-4zM422 266h1v1h-1zM424 266h1v1h-1zM426 266h1v1h-1zM430 266h1v1h-1zM432 266h1v1h-1zM448 266h1v1h-1zM451 266h2v1h-2zM458 266h1v1h-1zM460 266h1v1h-1zM471 266h3v1h-3zM475 266h1v1h-1zM478 266h3v1h-3zM421 267h1v1h-1zM424 267h2v1h-2zM427 267h1v1h-1zM430 267h2v1h-2zM433 267h1v1h-1zM440 267h2v1h-2zM443 267h1v1h-1zM451 267h3v1h-3zM456 267h2v1h-2zM459 267h1v1h-1zM461 267h2v1h-2zM470 267h2v1h-2zM473 267h3v1h-3zM477 267h4v1h-4zM423 268h1v1h-1zM430 268h2v1h-2zM433 268h2v1h-2zM437 268h3v1h-3zM441 268h1v1h-1zM444 268h1v1h-1zM457 268h1v1h-1zM459 268h1v1h-1zM461 268h2v1h-2zM465 268h2v1h-2zM468 268h5v1h-5zM474 268h1v1h-1zM476 268h3v1h-3zM480 268h1v1h-1zM427 269h1v1h-1zM429 269h1v1h-1zM435 269h4v1h-4zM446 269h1v1h-1zM454 269h1v1h-1zM459 269h1v1h-1zM464 269h1v1h-1zM467 269h1v1h-1zM473 269h1v1h-1zM475 269h3v1h-3zM479 269h2v1h-2zM423 270h1v1h-1zM426 270h2v1h-2zM429 270h2v1h-2zM432 270h1v1h-1zM443 270h2v1h-2zM448 270h1v1h-1zM456 270h1v1h-1zM459 270h1v1h-1zM463 270h2v1h-2zM467 270h1v1h-1zM472 270h1v1h-1zM474 270h3v1h-3zM479 270h3v1h-3zM434 271h1v1h-1zM438 271h1v1h-1zM448 271h1v1h-1zM456 271h2v1h-2zM459 271h3v1h-3zM463 271h2v1h-2zM466 271h1v1h-1zM471 271h1v1h-1zM473 271h1v1h-1zM475 271h2v1h-2zM479 271h2v1h-2zM425 272h1v1h-1zM429 272h2v1h-2zM432 272h2v1h-2zM437 272h5v1h-5zM444 272h10v1h-10zM455 272h1v1h-1zM458 272h2v1h-2zM462 272h1v1h-1zM464 272h1v1h-1zM466 272h1v1h-1zM468 272h1v1h-1zM471 272h11v1h-11zM427 273h1v1h-1zM431 273h1v1h-1zM435 273h1v1h-1zM448 273h1v1h-1zM450 273h1v1h-1zM456 273h1v1h-1zM464 273h2v1h-2zM469 273h2v1h-2zM473 273h1v1h-1zM475 273h2v1h-2zM478 273h1v1h-1zM481 273h1v1h-1zM428 274h1v1h-1zM431 274h1v1h-1zM439 274h1v1h-1zM445 274h1v1h-1zM447 274h1v1h-1zM449 274h1v1h-1zM454 274h1v1h-1zM459 274h1v1h-1zM461 274h1v1h-1zM470 274h1v1h-1zM472 274h3v1h-3zM478 274h3v1h-3zM427 275h1v1h-1zM432 275h1v1h-1zM434 275h3v1h-3zM442 275h2v1h-2zM450 275h2v1h-2zM453 275h3v1h-3zM464 275h1v1h-1zM472 275h1v1h-1zM474 275h1v1h-1zM477 275h5v1h-5zM431 276h2v1h-2zM444 276h1v1h-1zM447 276h1v1h-1zM453 276h3v1h-3zM467 276h3v1h-3zM473 276h4v1h-4zM478 276h2v1h-2zM481 276h1v1h-1zM427 277h1v1h-1zM429 277h1v1h-1zM435 277h2v1h-2zM438 277h1v1h-1zM446 277h1v1h-1zM453 277h4v1h-4zM458 277h1v1h-1zM472 277h2v1h-2zM476 277h2v1h-2zM479 277h3v1h-3zM428 278h1v1h-1zM432 278h1v1h-1zM435 278h1v1h-1zM443 278h1v1h-1zM449 278h1v1h-1zM451 278h1v1h-1zM459 278h1v1h-1zM461 278h3v1h-3zM466 278h1v1h-1zM474 278h5v1h-5zM429 279h1v1h-1zM436 279h1v1h-1zM445 279h1v1h-1zM448 279h1v1h-1zM451 279h2v1h-2zM454 279h1v1h-1zM457 279h2v1h-2zM461 279h1v1h-1zM465 279h2v1h-2zM470 279h1v1h-1zM473 279h5v1h-5zM479 279h4v1h-4zM432 280h4v1h-4zM437 280h1v1h-1zM439 280h1v1h-1zM442 280h2v1h-2zM454 280h2v1h-2zM464 280h2v1h-2zM467 280h1v1h-1zM476 280h1v1h-1zM480 280h2v1h-2zM433 281h2v1h-2zM442 281h1v1h-1zM444 281h1v1h-1zM454 281h1v1h-1zM461 281h1v1h-1zM463 281h1v1h-1zM466 281h1v1h-1zM469 281h1v1h-1zM475 281h5v1h-5zM482 281h1v1h-1zM432 282h1v1h-1zM436 282h1v1h-1zM438 282h2v1h-2zM442 282h1v1h-1zM448 282h1v1h-1zM451 282h2v1h-2zM455 282h1v1h-1zM465 282h1v1h-1zM468 282h1v1h-1zM476 282h3v1h-3zM433 283h2v1h-2zM444 283h1v1h-1zM448 283h1v1h-1zM451 283h1v1h-1zM453 283h1v1h-1zM457 283h2v1h-2zM461 283h1v1h-1zM464 283h1v1h-1zM466 283h2v1h-2zM474 283h2v1h-2zM480 283h3v1h-3zM434 284h1v1h-1zM437 284h1v1h-1zM440 284h1v1h-1zM444 284h2v1h-2zM454 284h1v1h-1zM456 284h1v1h-1zM459 284h1v1h-1zM468 284h1v1h-1zM474 284h1v1h-1zM477 284h6v1h-6zM440 285h1v1h-1zM443 285h1v1h-1zM445 285h1v1h-1zM448 285h1v1h-1zM451 285h2v1h-2zM457 285h1v1h-1zM460 285h1v1h-1zM464 285h1v1h-1zM466 285h2v1h-2zM470 285h1v1h-1zM474 285h1v1h-1zM476 285h1v1h-1zM478 285h2v1h-2zM481 285h2v1h-2zM437 286h1v1h-1zM441 286h1v1h-1zM443 286h1v1h-1zM445 286h1v1h-1zM447 286h3v1h-3zM451 286h1v1h-1zM455 286h1v1h-1zM459 286h4v1h-4zM465 286h1v1h-1zM468 286h1v1h-1zM475 286h6v1h-6zM482 286h1v1h-1zM438 287h1v1h-1zM443 287h1v1h-1zM445 287h1v1h-1zM447 287h2v1h-2zM457 287h2v1h-2zM468 287h1v1h-1zM477 287h3v1h-3zM482 287h1v1h-1zM449 288h1v1h-1zM451 288h1v1h-1zM460 288h1v1h-1zM464 288h1v1h-1zM468 288h1v1h-1zM477 288h1v1h-1zM479 288h2v1h-2zM482 288h1v1h-1zM447 289h2v1h-2zM463 289h2v1h-2zM467 289h1v1h-1zM476 289h6v1h-6zM439 290h1v1h-1zM442 290h2v1h-2zM445 290h1v1h-1zM450 290h4v1h-4zM459 290h2v1h-2zM467 290h1v1h-1zM477 290h2v1h-2zM480 290h2v1h-2zM483 290h1v1h-1zM442 291h1v1h-1zM449 291h2v1h-2zM456 291h1v1h-1zM459 291h1v1h-1zM464 291h1v1h-1zM466 291h2v1h-2zM476 291h1v1h-1zM479 291h4v1h-4zM441 292h1v1h-1zM444 292h1v1h-1zM447 292h1v1h-1zM476 292h2v1h-2zM479 292h1v1h-1zM482 292h2v1h-2zM441 293h2v1h-2zM455 293h3v1h-3zM463 293h1v1h-1zM477 293h1v1h-1zM479 293h5v1h-5zM439 294h1v1h-1zM442 294h1v1h-1zM444 294h1v1h-1zM447 294h2v1h-2zM450 294h1v1h-1zM452 294h1v1h-1zM454 294h4v1h-4zM460 294h2v1h-2zM463 294h1v1h-1zM478 294h3v1h-3zM483 294h1v1h-1zM440 295h2v1h-2zM444 295h1v1h-1zM451 295h1v1h-1zM454 295h1v1h-1zM461 295h1v1h-1zM476 295h1v1h-1zM479 295h3v1h-3zM443 296h2v1h-2zM446 296h1v1h-1zM450 296h1v1h-1zM459 296h1v1h-1zM476 296h5v1h-5zM482 296h2v1h-2zM446 297h1v1h-1zM453 297h1v1h-1zM459 297h2v1h-2zM476 297h1v1h-1zM478 297h2v1h-2zM481 297h3v1h-3zM449 298h1v1h-1zM452 298h1v1h-1zM478 298h3v1h-3zM482 298h2v1h-2zM540 298h2v1h-2zM543 298h7v1h-7zM446 299h1v1h-1zM448 299h2v1h-2zM454 299h1v1h-1zM457 299h1v1h-1zM477 299h1v1h-1zM481 299h3v1h-3zM542 299h3v1h-3zM546 299h1v1h-1zM548 299h2v1h-2zM443 300h1v1h-1zM449 300h1v1h-1zM480 300h1v1h-1zM482 300h1v1h-1zM542 300h2v1h-2zM547 300h2v1h-2zM443 301h2v1h-2zM446 301h1v1h-1zM476 301h5v1h-5zM482 301h1v1h-1zM542 301h2v1h-2zM449 302h1v1h-1zM452 302h1v1h-1zM477 302h3v1h-3zM481 302h2v1h-2zM543 302h1v1h-1zM545 302h1v1h-1zM548 302h1v1h-1zM445 303h1v1h-1zM447 303h2v1h-2zM478 303h5v1h-5zM544 303h2v1h-2zM548 303h1v1h-1zM443 304h1v1h-1zM445 304h1v1h-1zM448 304h1v1h-1zM450 304h1v1h-1zM477 304h1v1h-1zM479 304h3v1h-3zM544 304h1v1h-1zM546 304h2v1h-2zM442 305h1v1h-1zM445 305h1v1h-1zM479 305h1v1h-1zM482 305h1v1h-1zM546 305h2v1h-2zM447 306h2v1h-2zM480 306h3v1h-3zM547 306h1v1h-1zM443 307h1v1h-1zM448 307h1v1h-1zM481 307h2v1h-2zM546 307h1v1h-1zM445 308h2v1h-2zM481 308h1v1h-1zM443 309h1v1h-1zM478 309h2v1h-2zM481 309h1v1h-1zM478 310h3v1h-3zM482 310h1v1h-1zM479 311h4v1h-4zM443 312h1v1h-1zM478 312h4v1h-4zM480 314h1v1h-1zM479 315h3v1h-3zM480 316h2v1h-2z" fill="url(#ge)" fill-opacity="0.72"/>
<path d="M465 210h1v1h-1zM468 210h2v1h-2zM471 210h2v1h-2zM479 210h1v1h-1zM494 210h1v1h-1zM497 210h1v1h-1zM461 211h1v1h-1zM464 211h3v1h-3zM468 211h1v1h-1zM471 211h1v1h-1zM474 211h1v1h-1zM477 211h1v1h-1zM480 211h2v1h-2zM495 211h2v1h-2zM457 212h1v1h-1zM460 212h1v1h-1zM462 212h1v1h-1zM465 212h2v1h-2zM472 212h1v1h-1zM476 212h2v1h-2zM482 212h1v1h-1zM485 212h1v1h-1zM487 212h1v1h-1zM495 212h1v1h-1zM454 213h1v1h-1zM459 213h1v1h-1zM467 213h1v1h-1zM474 213h1v1h-1zM477 213h1v1h-1zM482 213h1v1h-1zM487 213h1v1h-1zM491 213h2v1h-2zM495 213h1v1h-1zM498 213h1v1h-1zM448 214h2v1h-2zM459 214h1v1h-1zM461 214h1v1h-1zM466 214h1v1h-1zM481 214h1v1h-1zM483 214h1v1h-1zM487 214h1v1h-1zM490 214h2v1h-2zM443 215h3v1h-3zM447 215h1v1h-1zM453 215h1v1h-1zM457 215h1v1h-1zM471 215h2v1h-2zM479 215h1v1h-1zM481 215h1v1h-1zM489 215h1v1h-1zM491 215h1v1h-1zM493 215h1v1h-1zM438 216h1v1h-1zM455 216h1v1h-1zM460 216h1v1h-1zM463 216h1v1h-1zM486 216h1v1h-1zM495 216h1v1h-1zM433 217h2v1h-2zM436 217h2v1h-2zM439 217h3v1h-3zM454 217h1v1h-1zM464 217h1v1h-1zM469 217h1v1h-1zM476 217h1v1h-1zM486 217h2v1h-2zM492 217h1v1h-1zM428 218h1v1h-1zM430 218h3v1h-3zM441 218h2v1h-2zM447 218h1v1h-1zM450 218h1v1h-1zM455 218h1v1h-1zM459 218h2v1h-2zM463 218h2v1h-2zM470 218h2v1h-2zM478 218h2v1h-2zM483 218h1v1h-1zM489 218h1v1h-1zM498 218h1v1h-1zM427 219h2v1h-2zM445 219h2v1h-2zM453 219h1v1h-1zM455 219h1v1h-1zM481 219h1v1h-1zM484 219h1v1h-1zM491 219h1v1h-1zM498 219h2v1h-2zM421 220h1v1h-1zM425 220h1v1h-1zM441 220h1v1h-1zM447 220h1v1h-1zM449 220h1v1h-1zM451 220h1v1h-1zM455 220h1v1h-1zM468 220h1v1h-1zM474 220h1v1h-1zM476 220h1v1h-1zM480 220h1v1h-1zM483 220h1v1h-1zM488 220h1v1h-1zM490 220h1v1h-1zM497 220h1v1h-1zM416 221h1v1h-1zM420 221h1v1h-1zM425 221h1v1h-1zM430 221h2v1h-2zM442 221h2v1h-2zM445 221h1v1h-1zM447 221h1v1h-1zM449 221h1v1h-1zM463 221h1v1h-1zM465 221h1v1h-1zM470 221h1v1h-1zM478 221h1v1h-1zM482 221h1v1h-1zM486 221h1v1h-1zM523 221h1v1h-1zM415 222h1v1h-1zM425 222h1v1h-1zM430 222h2v1h-2zM437 222h2v1h-2zM464 222h1v1h-1zM467 222h1v1h-1zM473 222h1v1h-1zM491 222h1v1h-1zM417 223h1v1h-1zM425 223h1v1h-1zM437 223h1v1h-1zM449 223h1v1h-1zM451 223h1v1h-1zM454 223h2v1h-2zM463 223h1v1h-1zM468 223h1v1h-1zM476 223h2v1h-2zM490 223h2v1h-2zM495 223h1v1h-1zM497 223h1v1h-1zM416 224h1v1h-1zM425 224h1v1h-1zM427 224h1v1h-1zM430 224h1v1h-1zM466 224h1v1h-1zM470 224h1v1h-1zM473 224h1v1h-1zM480 224h1v1h-1zM485 224h1v1h-1zM495 224h1v1h-1zM498 224h1v1h-1zM418 225h2v1h-2zM425 225h2v1h-2zM432 225h1v1h-1zM437 225h1v1h-1zM440 225h1v1h-1zM450 225h1v1h-1zM459 225h2v1h-2zM475 225h1v1h-1zM486 225h1v1h-1zM488 225h1v1h-1zM490 225h1v1h-1zM418 226h1v1h-1zM420 226h1v1h-1zM423 226h3v1h-3zM427 226h1v1h-1zM455 226h1v1h-1zM457 226h1v1h-1zM469 226h1v1h-1zM473 226h1v1h-1zM480 226h1v1h-1zM489 226h1v1h-1zM492 226h1v1h-1zM496 226h1v1h-1zM417 227h1v1h-1zM427 227h1v1h-1zM429 227h1v1h-1zM434 227h1v1h-1zM452 227h1v1h-1zM458 227h1v1h-1zM461 227h1v1h-1zM467 227h1v1h-1zM473 227h1v1h-1zM477 227h1v1h-1zM481 227h3v1h-3zM486 227h1v1h-1zM498 227h1v1h-1zM525 227h1v1h-1zM434 228h2v1h-2zM441 228h1v1h-1zM444 228h1v1h-1zM449 228h1v1h-1zM451 228h1v1h-1zM460 228h2v1h-2zM527 228h1v1h-1zM417 229h1v1h-1zM439 229h1v1h-1zM456 229h1v1h-1zM458 229h1v1h-1zM460 229h1v1h-1zM416 230h1v1h-1zM418 230h2v1h-2zM428 230h1v1h-1zM430 230h1v1h-1zM434 230h1v1h-1zM447 230h1v1h-1zM449 230h1v1h-1zM462 230h1v1h-1zM465 230h1v1h-1zM527 230h1v1h-1zM420 231h1v1h-1zM426 231h1v1h-1zM432 231h1v1h-1zM434 231h1v1h-1zM438 231h2v1h-2zM442 231h2v1h-2zM458 231h1v1h-1zM460 231h2v1h-2zM416 232h1v1h-1zM420 232h1v1h-1zM422 232h1v1h-1zM431 232h1v1h-1zM442 232h1v1h-1zM460 232h1v1h-1zM465 232h1v1h-1zM468 232h1v1h-1zM434 233h1v1h-1zM449 233h2v1h-2zM456 233h1v1h-1zM466 233h1v1h-1zM469 233h1v1h-1zM416 234h1v1h-1zM425 234h2v1h-2zM439 234h2v1h-2zM445 234h1v1h-1zM465 234h1v1h-1zM527 234h1v1h-1zM529 234h1v1h-1zM420 235h1v1h-1zM425 235h1v1h-1zM429 235h1v1h-1zM431 235h1v1h-1zM433 235h1v1h-1zM437 235h1v1h-1zM444 235h1v1h-1zM447 235h1v1h-1zM450 235h2v1h-2zM457 235h1v1h-1zM462 235h1v1h-1zM465 235h1v1h-1zM526 235h1v1h-1zM528 235h1v1h-1zM533 235h1v1h-1zM421 236h1v1h-1zM423 236h1v1h-1zM432 236h2v1h-2zM435 236h1v1h-1zM438 236h1v1h-1zM448 236h1v1h-1zM453 236h2v1h-2zM458 236h1v1h-1zM461 236h1v1h-1zM464 236h1v1h-1zM466 236h1v1h-1zM527 236h1v1h-1zM531 236h1v1h-1zM533 236h1v1h-1zM530 238h1v1h-1zM533 238h1v1h-1zM532 239h1v1h-1zM526 240h1v1h-1zM536 240h2v1h-2zM537 241h1v1h-1zM533 242h1v1h-1zM535 242h1v1h-1zM537 242h1v1h-1zM531 243h1v1h-1zM535 243h2v1h-2zM528 244h1v1h-1zM531 244h3v1h-3zM537 244h1v1h-1zM539 244h1v1h-1zM525 245h1v1h-1zM538 245h1v1h-1zM530 246h1v1h-1zM536 246h2v1h-2zM541 246h1v1h-1zM528 247h1v1h-1zM535 247h2v1h-2zM415 248h1v1h-1zM420 248h1v1h-1zM425 248h1v1h-1zM429 248h1v1h-1zM431 248h1v1h-1zM447 248h1v1h-1zM451 248h1v1h-1zM458 248h1v1h-1zM530 248h1v1h-1zM543 248h1v1h-1zM415 249h1v1h-1zM424 249h1v1h-1zM426 249h1v1h-1zM436 249h1v1h-1zM441 249h1v1h-1zM443 249h1v1h-1zM447 249h1v1h-1zM449 249h1v1h-1zM454 249h2v1h-2zM458 249h1v1h-1zM461 249h2v1h-2zM531 249h1v1h-1zM535 249h1v1h-1zM539 249h1v1h-1zM542 249h1v1h-1zM416 250h2v1h-2zM420 250h1v1h-1zM422 250h2v1h-2zM428 250h1v1h-1zM434 250h1v1h-1zM437 250h1v1h-1zM445 250h1v1h-1zM447 250h1v1h-1zM455 250h1v1h-1zM459 250h1v1h-1zM520 250h1v1h-1zM528 250h2v1h-2zM533 250h1v1h-1zM535 250h1v1h-1zM542 250h1v1h-1zM545 250h1v1h-1zM428 251h1v1h-1zM430 251h1v1h-1zM432 251h3v1h-3zM437 251h1v1h-1zM440 251h3v1h-3zM445 251h4v1h-4zM450 251h1v1h-1zM452 251h2v1h-2zM455 251h2v1h-2zM460 251h2v1h-2zM464 251h1v1h-1zM523 251h2v1h-2zM527 251h1v1h-1zM533 251h1v1h-1zM542 251h1v1h-1zM545 251h1v1h-1zM415 252h2v1h-2zM419 252h1v1h-1zM424 252h1v1h-1zM426 252h2v1h-2zM430 252h2v1h-2zM434 252h4v1h-4zM440 252h1v1h-1zM445 252h2v1h-2zM448 252h2v1h-2zM452 252h2v1h-2zM455 252h1v1h-1zM457 252h1v1h-1zM459 252h1v1h-1zM463 252h3v1h-3zM468 252h2v1h-2zM530 252h1v1h-1zM532 252h1v1h-1zM545 252h1v1h-1zM415 253h1v1h-1zM417 253h4v1h-4zM425 253h2v1h-2zM430 253h1v1h-1zM437 253h3v1h-3zM442 253h1v1h-1zM447 253h1v1h-1zM450 253h1v1h-1zM452 253h1v1h-1zM454 253h3v1h-3zM458 253h2v1h-2zM461 253h2v1h-2zM464 253h1v1h-1zM466 253h1v1h-1zM469 253h1v1h-1zM482 253h1v1h-1zM484 253h1v1h-1zM490 253h2v1h-2zM495 253h2v1h-2zM534 253h3v1h-3zM541 253h1v1h-1zM548 253h1v1h-1zM418 254h6v1h-6zM427 254h3v1h-3zM432 254h4v1h-4zM437 254h1v1h-1zM440 254h2v1h-2zM445 254h9v1h-9zM455 254h1v1h-1zM458 254h1v1h-1zM460 254h8v1h-8zM481 254h1v1h-1zM486 254h1v1h-1zM495 254h1v1h-1zM529 254h1v1h-1zM532 254h1v1h-1zM537 254h1v1h-1zM547 254h2v1h-2zM415 255h2v1h-2zM419 255h6v1h-6zM426 255h4v1h-4zM431 255h8v1h-8zM440 255h1v1h-1zM443 255h4v1h-4zM449 255h3v1h-3zM453 255h5v1h-5zM462 255h8v1h-8zM471 255h1v1h-1zM475 255h2v1h-2zM489 255h1v1h-1zM491 255h1v1h-1zM493 255h1v1h-1zM518 255h1v1h-1zM526 255h1v1h-1zM530 255h1v1h-1zM534 255h1v1h-1zM537 255h1v1h-1zM539 255h2v1h-2zM549 255h1v1h-1zM472 256h2v1h-2zM476 256h1v1h-1zM481 256h2v1h-2zM485 256h2v1h-2zM491 256h1v1h-1zM494 256h1v1h-1zM500 256h1v1h-1zM502 256h1v1h-1zM538 256h2v1h-2zM541 256h1v1h-1zM544 256h1v1h-1zM549 256h3v1h-3zM472 257h2v1h-2zM475 257h1v1h-1zM477 257h2v1h-2zM485 257h2v1h-2zM495 257h1v1h-1zM502 257h1v1h-1zM518 257h1v1h-1zM520 257h1v1h-1zM527 257h2v1h-2zM531 257h2v1h-2zM534 257h1v1h-1zM538 257h1v1h-1zM543 257h1v1h-1zM545 257h1v1h-1zM550 257h1v1h-1zM552 257h1v1h-1zM470 258h2v1h-2zM474 258h1v1h-1zM476 258h1v1h-1zM479 258h1v1h-1zM484 258h3v1h-3zM490 258h2v1h-2zM496 258h1v1h-1zM501 258h1v1h-1zM524 258h1v1h-1zM529 258h1v1h-1zM536 258h1v1h-1zM540 258h1v1h-1zM542 258h1v1h-1zM546 258h1v1h-1zM551 258h1v1h-1zM553 258h2v1h-2zM475 259h5v1h-5zM482 259h1v1h-1zM484 259h3v1h-3zM496 259h1v1h-1zM501 259h1v1h-1zM532 259h2v1h-2zM536 259h1v1h-1zM541 259h3v1h-3zM547 259h1v1h-1zM549 259h3v1h-3zM470 260h3v1h-3zM474 260h2v1h-2zM478 260h3v1h-3zM482 260h3v1h-3zM487 260h3v1h-3zM491 260h2v1h-2zM496 260h1v1h-1zM522 260h1v1h-1zM532 260h1v1h-1zM537 260h3v1h-3zM541 260h1v1h-1zM544 260h2v1h-2zM550 260h1v1h-1zM554 260h2v1h-2zM470 261h4v1h-4zM476 261h2v1h-2zM479 261h1v1h-1zM481 261h4v1h-4zM487 261h2v1h-2zM490 261h1v1h-1zM538 261h1v1h-1zM540 261h2v1h-2zM546 261h1v1h-1zM549 261h1v1h-1zM551 261h1v1h-1zM553 261h2v1h-2zM480 262h1v1h-1zM483 262h3v1h-3zM487 262h1v1h-1zM489 262h2v1h-2zM495 262h1v1h-1zM499 262h1v1h-1zM520 262h2v1h-2zM526 262h1v1h-1zM532 262h2v1h-2zM536 262h1v1h-1zM539 262h2v1h-2zM549 262h1v1h-1zM554 262h1v1h-1zM480 263h2v1h-2zM483 263h1v1h-1zM485 263h2v1h-2zM488 263h3v1h-3zM495 263h1v1h-1zM531 263h1v1h-1zM533 263h2v1h-2zM536 263h1v1h-1zM538 263h4v1h-4zM547 263h1v1h-1zM549 263h1v1h-1zM554 263h2v1h-2zM480 264h3v1h-3zM485 264h1v1h-1zM487 264h1v1h-1zM489 264h2v1h-2zM494 264h1v1h-1zM496 264h1v1h-1zM520 264h1v1h-1zM527 264h1v1h-1zM533 264h1v1h-1zM535 264h1v1h-1zM538 264h2v1h-2zM542 264h1v1h-1zM544 264h3v1h-3zM551 264h2v1h-2zM554 264h1v1h-1zM484 265h1v1h-1zM486 265h1v1h-1zM488 265h1v1h-1zM492 265h1v1h-1zM495 265h1v1h-1zM521 265h1v1h-1zM527 265h1v1h-1zM534 265h2v1h-2zM537 265h1v1h-1zM539 265h6v1h-6zM546 265h1v1h-1zM553 265h1v1h-1zM481 266h2v1h-2zM484 266h1v1h-1zM486 266h1v1h-1zM488 266h2v1h-2zM492 266h1v1h-1zM527 266h2v1h-2zM530 266h2v1h-2zM542 266h1v1h-1zM547 266h4v1h-4zM552 266h1v1h-1zM554 266h2v1h-2zM481 267h3v1h-3zM495 267h1v1h-1zM530 267h4v1h-4zM537 267h2v1h-2zM542 267h2v1h-2zM545 267h4v1h-4zM551 267h1v1h-1zM482 268h1v1h-1zM484 268h1v1h-1zM487 268h2v1h-2zM490 268h2v1h-2zM493 268h1v1h-1zM495 268h1v1h-1zM530 268h1v1h-1zM534 268h6v1h-6zM541 268h1v1h-1zM545 268h2v1h-2zM548 268h3v1h-3zM553 268h1v1h-1zM481 269h1v1h-1zM487 269h6v1h-6zM524 269h1v1h-1zM530 269h1v1h-1zM532 269h1v1h-1zM534 269h1v1h-1zM536 269h1v1h-1zM538 269h3v1h-3zM542 269h2v1h-2zM550 269h1v1h-1zM553 269h1v1h-1zM482 270h1v1h-1zM484 270h2v1h-2zM488 270h2v1h-2zM492 270h2v1h-2zM525 270h1v1h-1zM535 270h1v1h-1zM539 270h3v1h-3zM543 270h2v1h-2zM548 270h3v1h-3zM552 270h3v1h-3zM482 271h1v1h-1zM484 271h1v1h-1zM486 271h1v1h-1zM488 271h2v1h-2zM496 271h1v1h-1zM523 271h1v1h-1zM526 271h1v1h-1zM532 271h1v1h-1zM537 271h1v1h-1zM540 271h2v1h-2zM543 271h4v1h-4zM549 271h2v1h-2zM553 271h2v1h-2zM482 272h2v1h-2zM485 272h4v1h-4zM528 272h1v1h-1zM532 272h1v1h-1zM534 272h1v1h-1zM538 272h1v1h-1zM540 272h2v1h-2zM543 272h1v1h-1zM546 272h3v1h-3zM552 272h3v1h-3zM482 273h2v1h-2zM486 273h2v1h-2zM493 273h1v1h-1zM530 273h2v1h-2zM533 273h4v1h-4zM538 273h2v1h-2zM542 273h2v1h-2zM545 273h5v1h-5zM551 273h1v1h-1zM553 273h1v1h-1zM555 273h1v1h-1zM483 274h1v1h-1zM487 274h5v1h-5zM493 274h1v1h-1zM524 274h2v1h-2zM534 274h1v1h-1zM536 274h3v1h-3zM540 274h2v1h-2zM545 274h3v1h-3zM549 274h2v1h-2zM553 274h1v1h-1zM555 274h1v1h-1zM482 275h4v1h-4zM489 275h2v1h-2zM524 275h2v1h-2zM527 275h1v1h-1zM533 275h1v1h-1zM535 275h1v1h-1zM538 275h2v1h-2zM542 275h1v1h-1zM544 275h1v1h-1zM546 275h1v1h-1zM549 275h5v1h-5zM555 275h1v1h-1zM483 276h1v1h-1zM485 276h1v1h-1zM529 276h1v1h-1zM535 276h1v1h-1zM537 276h3v1h-3zM541 276h2v1h-2zM545 276h3v1h-3zM549 276h2v1h-2zM554 276h2v1h-2zM483 277h4v1h-4zM488 277h3v1h-3zM525 277h2v1h-2zM531 277h1v1h-1zM534 277h1v1h-1zM539 277h1v1h-1zM541 277h7v1h-7zM553 277h3v1h-3zM482 278h3v1h-3zM486 278h1v1h-1zM488 278h1v1h-1zM490 278h2v1h-2zM528 278h1v1h-1zM531 278h3v1h-3zM535 278h1v1h-1zM538 278h1v1h-1zM542 278h4v1h-4zM547 278h5v1h-5zM554 278h1v1h-1zM483 279h3v1h-3zM488 279h2v1h-2zM492 279h1v1h-1zM527 279h1v1h-1zM529 279h1v1h-1zM537 279h4v1h-4zM542 279h1v1h-1zM544 279h1v1h-1zM546 279h3v1h-3zM550 279h1v1h-1zM552 279h1v1h-1zM555 279h1v1h-1zM483 280h4v1h-4zM488 280h1v1h-1zM492 280h1v1h-1zM524 280h1v1h-1zM536 280h1v1h-1zM538 280h5v1h-5zM544 280h3v1h-3zM548 280h2v1h-2zM554 280h1v1h-1zM483 281h2v1h-2zM486 281h1v1h-1zM488 281h2v1h-2zM531 281h1v1h-1zM533 281h1v1h-1zM535 281h1v1h-1zM537 281h2v1h-2zM543 281h2v1h-2zM546 281h1v1h-1zM548 281h2v1h-2zM551 281h3v1h-3zM555 281h1v1h-1zM483 282h3v1h-3zM488 282h1v1h-1zM530 282h1v1h-1zM534 282h1v1h-1zM536 282h2v1h-2zM540 282h6v1h-6zM549 282h2v1h-2zM553 282h3v1h-3zM485 283h1v1h-1zM488 283h1v1h-1zM527 283h1v1h-1zM541 283h2v1h-2zM547 283h4v1h-4zM552 283h4v1h-4zM484 284h1v1h-1zM486 284h2v1h-2zM527 284h1v1h-1zM531 284h1v1h-1zM536 284h1v1h-1zM538 284h1v1h-1zM540 284h3v1h-3zM545 284h1v1h-1zM547 284h1v1h-1zM549 284h2v1h-2zM553 284h1v1h-1zM483 285h1v1h-1zM485 285h3v1h-3zM536 285h1v1h-1zM538 285h1v1h-1zM542 285h1v1h-1zM544 285h2v1h-2zM547 285h2v1h-2zM551 285h2v1h-2zM484 286h1v1h-1zM486 286h1v1h-1zM488 286h1v1h-1zM528 286h1v1h-1zM531 286h1v1h-1zM533 286h1v1h-1zM535 286h1v1h-1zM539 286h1v1h-1zM542 286h2v1h-2zM546 286h3v1h-3zM551 286h1v1h-1zM554 286h1v1h-1zM483 287h2v1h-2zM487 287h1v1h-1zM532 287h1v1h-1zM538 287h2v1h-2zM541 287h2v1h-2zM547 287h2v1h-2zM550 287h1v1h-1zM552 287h2v1h-2zM483 288h6v1h-6zM528 288h2v1h-2zM533 288h1v1h-1zM536 288h1v1h-1zM538 288h3v1h-3zM543 288h1v1h-1zM547 288h2v1h-2zM550 288h2v1h-2zM553 288h2v1h-2zM534 289h5v1h-5zM541 289h3v1h-3zM546 289h6v1h-6zM553 289h1v1h-1zM484 290h2v1h-2zM529 290h1v1h-1zM534 290h3v1h-3zM540 290h3v1h-3zM544 290h1v1h-1zM546 290h2v1h-2zM549 290h1v1h-1zM552 290h2v1h-2zM484 291h4v1h-4zM530 291h1v1h-1zM532 291h1v1h-1zM538 291h5v1h-5zM544 291h2v1h-2zM547 291h6v1h-6zM485 292h2v1h-2zM532 292h6v1h-6zM539 292h1v1h-1zM543 292h4v1h-4zM551 292h2v1h-2zM484 293h1v1h-1zM487 293h2v1h-2zM537 293h1v1h-1zM539 293h1v1h-1zM541 293h1v1h-1zM544 293h2v1h-2zM547 293h2v1h-2zM550 293h2v1h-2zM485 294h2v1h-2zM532 294h1v1h-1zM536 294h1v1h-1zM538 294h1v1h-1zM541 294h2v1h-2zM544 294h1v1h-1zM548 294h1v1h-1zM484 295h2v1h-2zM534 295h1v1h-1zM539 295h1v1h-1zM541 295h1v1h-1zM543 295h1v1h-1zM545 295h2v1h-2zM549 295h3v1h-3zM484 296h2v1h-2zM537 296h1v1h-1zM540 296h1v1h-1zM544 296h2v1h-2zM549 296h2v1h-2zM485 297h1v1h-1zM538 297h1v1h-1zM541 297h2v1h-2zM545 297h2v1h-2zM549 297h2v1h-2zM485 298h1v1h-1zM537 298h1v1h-1zM485 299h2v1h-2zM484 300h1v1h-1zM483 301h3v1h-3zM541 301h1v1h-1zM483 302h3v1h-3zM485 303h1v1h-1zM540 304h1v1h-1zM483 305h2v1h-2zM543 305h1v1h-1zM484 306h1v1h-1zM483 308h1v1h-1zM483 309h1v1h-1zM542 309h1v1h-1zM483 310h1v1h-1zM543 310h1v1h-1zM545 310h1v1h-1zM482 312h1v1h-1zM482 313h1v1h-1z" fill="#fff" fill-opacity="0.55"/>
<path d="M414.8 221.4L472 209.2L472 212L414.8 223.8Z" fill="url(#ge)"/>
<path d="M414.8 209.5H556.2" stroke="#444" stroke-width="1" fill="none"/>
<path d="M556.2 209.5V322.1" stroke="#b0b0b0" stroke-width="1.4" fill="none"/>
<path d="M414.8 209.5V322.1H556.2" stroke="#444" stroke-width="1" fill="none"/>
<line x1="414.8" y1="322.3" x2="417.0" y2="322.3" stroke="#555" stroke-width="0.6"/>
<text x="413.6" y="326.0" font-size="10.3" font-weight="normal" text-anchor="end" fill="#222" >0.0</text>
<line x1="414.8" y1="311.1" x2="416.3" y2="311.1" stroke="#555" stroke-width="0.6"/>
<line x1="414.8" y1="299.9" x2="417.0" y2="299.9" stroke="#555" stroke-width="0.6"/>
<text x="413.6" y="303.6" font-size="10.3" font-weight="normal" text-anchor="end" fill="#222" >1.0</text>
<line x1="414.8" y1="288.7" x2="416.3" y2="288.7" stroke="#555" stroke-width="0.6"/>
<line x1="414.8" y1="277.5" x2="417.0" y2="277.5" stroke="#555" stroke-width="0.6"/>
<text x="413.6" y="281.2" font-size="10.3" font-weight="normal" text-anchor="end" fill="#222" >2.0</text>
<line x1="414.8" y1="266.3" x2="416.3" y2="266.3" stroke="#555" stroke-width="0.6"/>
<line x1="414.8" y1="255.1" x2="417.0" y2="255.1" stroke="#555" stroke-width="0.6"/>
<text x="413.6" y="258.8" font-size="10.3" font-weight="normal" text-anchor="end" fill="#222" >3.0</text>
<line x1="414.8" y1="243.9" x2="416.3" y2="243.9" stroke="#555" stroke-width="0.6"/>
<line x1="414.8" y1="232.7" x2="417.0" y2="232.7" stroke="#555" stroke-width="0.6"/>
<text x="413.6" y="236.4" font-size="10.3" font-weight="normal" text-anchor="end" fill="#222" >4.0</text>
<line x1="414.8" y1="221.5" x2="416.3" y2="221.5" stroke="#555" stroke-width="0.6"/>
<line x1="414.8" y1="210.3" x2="417.0" y2="210.3" stroke="#555" stroke-width="0.6"/>
<text x="413.6" y="214.0" font-size="10.3" font-weight="normal" text-anchor="end" fill="#222" >5.0</text>
<line x1="415.8" y1="322.1" x2="415.8" y2="320.6" stroke="#555" stroke-width="0.6"/>
<line x1="435.7" y1="322.1" x2="435.7" y2="319.9" stroke="#555" stroke-width="0.6"/>
<text x="437.3" y="333.2" font-size="10.3" font-weight="normal" text-anchor="middle" fill="#222" >-0.04</text>
<line x1="455.6" y1="322.1" x2="455.6" y2="320.6" stroke="#555" stroke-width="0.6"/>
<line x1="475.6" y1="322.1" x2="475.6" y2="319.9" stroke="#555" stroke-width="0.6"/>
<text x="477.2" y="333.2" font-size="10.3" font-weight="normal" text-anchor="middle" fill="#222" >-0.02</text>
<line x1="495.6" y1="322.1" x2="495.6" y2="320.6" stroke="#555" stroke-width="0.6"/>
<line x1="515.5" y1="322.1" x2="515.5" y2="319.9" stroke="#555" stroke-width="0.6"/>
<text x="517.1" y="333.2" font-size="10.3" font-weight="normal" text-anchor="middle" fill="#222" >0.00</text>
<line x1="535.5" y1="322.1" x2="535.5" y2="320.6" stroke="#555" stroke-width="0.6"/>
<line x1="555.4" y1="322.1" x2="555.4" y2="319.9" stroke="#555" stroke-width="0.6"/>
<text x="557.0" y="333.2" font-size="10.3" font-weight="normal" text-anchor="middle" fill="#222" >0.02</text>
<text x="459.8" y="350.6" font-size="11.5" font-weight="bold" fill="#111">Sign(λ<tspan font-size="8.5" dy="3">2</tspan><tspan dy="-3">)ρ (a.u.)</tspan></text>
<text x="0" y="0" transform="translate(396.9 264.2) rotate(-90)" font-size="11.2" font-weight="bold" text-anchor="middle" fill="#111">IRI (a.u.)</text>
<rect x="559.3" y="209.5" width="7.3" height="112.6" fill="url(#gcb)"/>
<line x1="566.6" y1="209.9" x2="568.2" y2="209.9" stroke="#444" stroke-width="0.6"/>
<line x1="566.6" y1="228.6" x2="567.6" y2="228.6" stroke="#444" stroke-width="0.6"/>
<line x1="566.6" y1="247.3" x2="568.2" y2="247.3" stroke="#444" stroke-width="0.6"/>
<line x1="566.6" y1="266.0" x2="567.6" y2="266.0" stroke="#444" stroke-width="0.6"/>
<line x1="566.6" y1="284.7" x2="568.2" y2="284.7" stroke="#444" stroke-width="0.6"/>
<line x1="566.6" y1="303.4" x2="567.6" y2="303.4" stroke="#444" stroke-width="0.6"/>
<line x1="566.6" y1="322.1" x2="568.2" y2="322.1" stroke="#444" stroke-width="0.6"/>
<text x="567.6" y="213.6" font-size="10.3" font-weight="normal" text-anchor="start" fill="#222" >0.02</text>
<text x="567.6" y="251.0" font-size="10.3" font-weight="normal" text-anchor="start" fill="#222" >0.00</text>
<text x="567.6" y="288.4" font-size="10.3" font-weight="normal" text-anchor="start" fill="#222" >-0.02</text>
<text x="567.6" y="325.8" font-size="10.3" font-weight="normal" text-anchor="start" fill="#222" >-0.04</text>
<text x="369" y="213" font-size="21" font-weight="normal" text-anchor="start" fill="#111" >(e)</text>
</svg></body></html>
